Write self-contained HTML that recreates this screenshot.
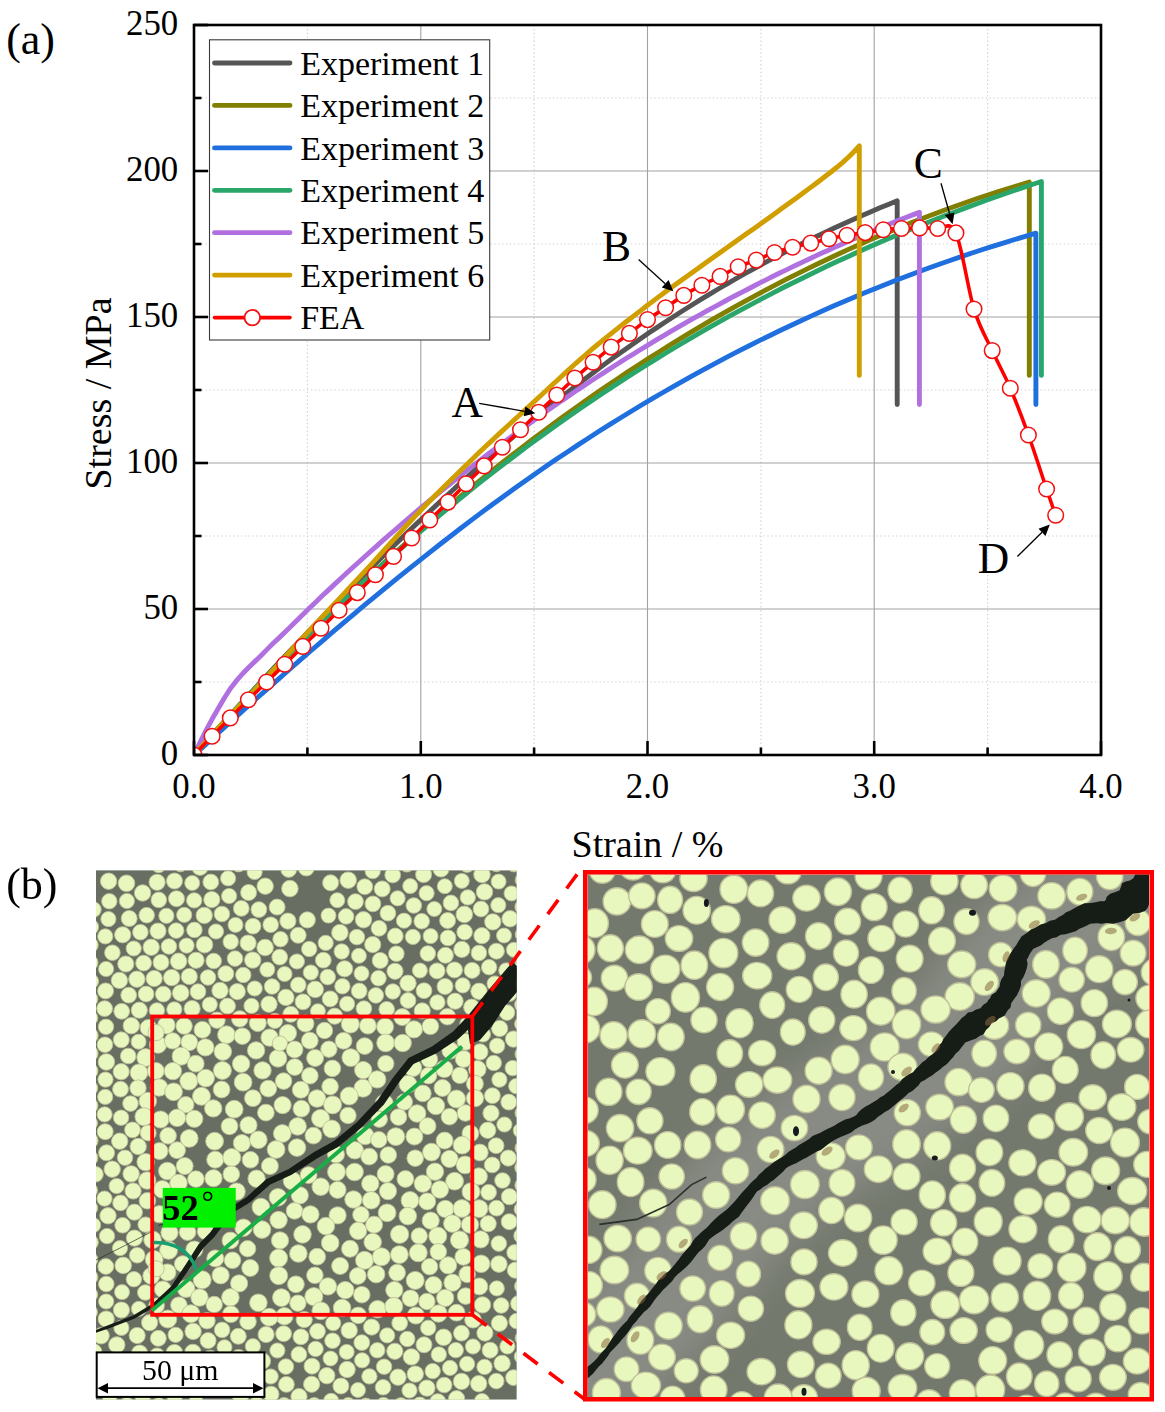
<!DOCTYPE html>
<html><head><meta charset="utf-8"><title>Stress-strain</title>
<style>
html,body{margin:0;padding:0;background:#fff;}
body{width:1165px;height:1412px;overflow:hidden;}
svg{display:block;}
text{font-family:"Liberation Serif",serif;fill:#000;}
.tk{font-size:34.8px;}
.ax{font-size:38px;}
.lg{font-size:34px;}
.an{font-size:43.5px;}
.lb{font-size:44px;}
</style></head><body>
<svg width="1165" height="1412" viewBox="0 0 1165 1412">
<rect width="1165" height="1412" fill="#fff"/>
<g id="chart">
<defs><clipPath id="pc"><rect x="194" y="25" width="907" height="730"/></clipPath></defs>
<line x1="307.4" y1="25" x2="307.4" y2="755" stroke="#d2d2d2" stroke-width="1.2" stroke-dasharray="1.4 2.5"/>
<line x1="534.1" y1="25" x2="534.1" y2="755" stroke="#d2d2d2" stroke-width="1.2" stroke-dasharray="1.4 2.5"/>
<line x1="760.9" y1="25" x2="760.9" y2="755" stroke="#d2d2d2" stroke-width="1.2" stroke-dasharray="1.4 2.5"/>
<line x1="987.6" y1="25" x2="987.6" y2="755" stroke="#d2d2d2" stroke-width="1.2" stroke-dasharray="1.4 2.5"/>
<line x1="194" y1="682.0" x2="1101" y2="682.0" stroke="#d2d2d2" stroke-width="1.2" stroke-dasharray="1.4 2.5"/>
<line x1="194" y1="536.0" x2="1101" y2="536.0" stroke="#d2d2d2" stroke-width="1.2" stroke-dasharray="1.4 2.5"/>
<line x1="194" y1="390.0" x2="1101" y2="390.0" stroke="#d2d2d2" stroke-width="1.2" stroke-dasharray="1.4 2.5"/>
<line x1="194" y1="244.0" x2="1101" y2="244.0" stroke="#d2d2d2" stroke-width="1.2" stroke-dasharray="1.4 2.5"/>
<line x1="194" y1="98.0" x2="1101" y2="98.0" stroke="#d2d2d2" stroke-width="1.2" stroke-dasharray="1.4 2.5"/>
<line x1="420.8" y1="25" x2="420.8" y2="755" stroke="#a2a2a2" stroke-width="1.1"/>
<line x1="647.5" y1="25" x2="647.5" y2="755" stroke="#a2a2a2" stroke-width="1.1"/>
<line x1="874.2" y1="25" x2="874.2" y2="755" stroke="#a2a2a2" stroke-width="1.1"/>
<line x1="194" y1="609.0" x2="1101" y2="609.0" stroke="#a2a2a2" stroke-width="1.1"/>
<line x1="194" y1="463.0" x2="1101" y2="463.0" stroke="#a2a2a2" stroke-width="1.1"/>
<line x1="194" y1="317.0" x2="1101" y2="317.0" stroke="#a2a2a2" stroke-width="1.1"/>
<line x1="194" y1="171.0" x2="1101" y2="171.0" stroke="#a2a2a2" stroke-width="1.1"/>
<g clip-path="url(#pc)">
<path d="M194.0,755.0 L202.9,745.1 L211.8,735.3 L220.7,725.5 L229.6,715.8 L238.5,706.1 L247.4,696.4 L256.3,686.8 L265.2,677.3 L274.1,667.7 L283.0,658.3 L291.9,648.9 L300.8,639.6 L309.7,630.3 L318.6,621.1 L327.5,611.9 L336.4,602.8 L345.3,593.7 L354.2,584.8 L363.1,575.9 L372.0,567.0 L380.9,558.2 L389.8,549.5 L398.7,540.9 L407.6,532.3 L416.5,523.9 L425.4,515.4 L434.3,507.1 L443.2,498.8 L452.1,490.7 L461.0,482.6 L469.9,474.6 L478.8,466.6 L487.7,458.8 L496.6,451.0 L505.5,443.3 L514.4,435.8 L523.3,428.3 L532.2,420.9 L541.1,413.6 L550.0,406.3 L558.9,399.2 L567.8,392.2 L576.7,385.3 L585.6,378.5 L594.5,371.7 L603.4,365.1 L612.3,358.6 L621.2,352.2 L630.1,345.9 L639.0,339.7 L647.9,333.6 L656.8,327.6 L665.7,321.7 L674.6,316.0 L683.5,310.3 L692.4,304.7 L701.3,299.2 L710.2,293.8 L719.1,288.5 L728.0,283.3 L736.9,278.2 L745.8,273.2 L754.7,268.3 L763.6,263.4 L772.5,258.7 L781.4,254.0 L790.3,249.4 L799.2,244.9 L808.1,240.5 L817.0,236.2 L825.9,232.0 L834.8,227.8 L843.7,223.7 L852.6,219.7 L861.5,215.8 L870.4,211.9 L879.4,208.1 L888.3,204.4 L897.2,200.8 L897.2,404.6" fill="none" stroke="#555555" stroke-width="4.9" stroke-linejoin="round" stroke-linecap="round"/>
<path d="M194.0,755.0 L204.6,743.3 L215.1,731.7 L225.7,720.2 L236.3,708.8 L246.9,697.6 L257.4,686.5 L268.0,675.5 L278.6,664.6 L289.2,653.9 L299.7,643.2 L310.3,632.7 L320.9,622.4 L331.5,612.1 L342.0,602.0 L352.6,591.9 L363.2,582.0 L373.8,572.2 L384.3,562.6 L394.9,553.0 L405.5,543.6 L416.1,534.3 L426.6,525.1 L437.2,516.0 L447.8,507.1 L458.4,498.2 L468.9,489.5 L479.5,480.9 L490.1,472.4 L500.6,464.0 L511.2,455.7 L521.8,447.6 L532.4,439.5 L542.9,431.6 L553.5,423.8 L564.1,416.1 L574.7,408.5 L585.2,401.0 L595.8,393.6 L606.4,386.3 L617.0,379.2 L627.5,372.1 L638.1,365.2 L648.7,358.4 L659.3,351.7 L669.8,345.1 L680.4,338.6 L691.0,332.2 L701.6,325.9 L712.1,319.7 L722.7,313.6 L733.3,307.7 L743.8,301.8 L754.4,296.1 L765.0,290.4 L775.6,284.9 L786.1,279.4 L796.7,274.1 L807.3,268.9 L817.9,263.7 L828.4,258.7 L839.0,253.8 L849.6,248.9 L860.2,244.2 L870.7,239.6 L881.3,235.1 L891.9,230.7 L902.5,226.3 L913.0,222.1 L923.6,218.0 L934.2,214.0 L944.8,210.0 L955.3,206.2 L965.9,202.5 L976.5,198.8 L987.1,195.3 L997.6,191.9 L1008.2,188.5 L1018.8,185.3 L1029.3,182.1 L1029.3,375.4" fill="none" stroke="#807f00" stroke-width="4.9" stroke-linejoin="round" stroke-linecap="round"/>
<path d="M194.0,755.1 L204.7,745.4 L215.3,735.7 L226.0,726.0 L236.6,716.4 L247.3,706.8 L257.9,697.3 L268.6,687.8 L279.3,678.4 L289.9,669.0 L300.6,659.7 L311.2,650.5 L321.9,641.3 L332.5,632.2 L343.2,623.1 L353.9,614.1 L364.5,605.2 L375.2,596.4 L385.8,587.6 L396.5,578.9 L407.1,570.3 L417.8,561.8 L428.5,553.3 L439.1,545.0 L449.8,536.7 L460.4,528.5 L471.1,520.4 L481.7,512.4 L492.4,504.5 L503.1,496.7 L513.7,489.1 L524.4,481.5 L535.0,474.0 L545.7,466.6 L556.3,459.3 L567.0,452.2 L577.7,445.1 L588.3,438.2 L599.0,431.3 L609.6,424.6 L620.3,418.0 L630.9,411.5 L641.6,405.0 L652.3,398.7 L662.9,392.5 L673.6,386.4 L684.2,380.3 L694.9,374.4 L705.5,368.6 L716.2,362.9 L726.9,357.2 L737.5,351.7 L748.2,346.3 L758.8,340.9 L769.5,335.7 L780.1,330.5 L790.8,325.5 L801.5,320.5 L812.1,315.6 L822.8,310.8 L833.4,306.1 L844.1,301.5 L854.7,297.0 L865.4,292.6 L876.1,288.3 L886.7,284.0 L897.4,279.8 L908.0,275.8 L918.7,271.8 L929.4,267.8 L940.0,264.0 L950.7,260.3 L961.3,256.6 L972.0,253.0 L982.6,249.5 L993.3,246.1 L1004.0,242.8 L1014.6,239.5 L1025.3,236.3 L1035.9,233.2 L1035.9,404.6" fill="none" stroke="#1f6fdf" stroke-width="4.9" stroke-linejoin="round" stroke-linecap="round"/>
<path d="M194.0,755.0 L204.7,743.0 L215.5,731.2 L226.2,719.5 L236.9,707.9 L247.6,696.5 L258.4,685.2 L269.1,674.1 L279.8,663.1 L290.5,652.2 L301.3,641.5 L312.0,630.9 L322.7,620.5 L333.4,610.2 L344.2,600.0 L354.9,590.0 L365.6,580.1 L376.3,570.3 L387.1,560.7 L397.8,551.2 L408.5,541.8 L419.2,532.6 L430.0,523.5 L440.7,514.5 L451.4,505.6 L462.2,496.9 L472.9,488.2 L483.6,479.7 L494.3,471.4 L505.1,463.1 L515.8,455.0 L526.5,446.9 L537.2,439.0 L548.0,431.3 L558.7,423.6 L569.4,416.0 L580.1,408.6 L590.9,401.3 L601.6,394.0 L612.3,386.9 L623.0,379.9 L633.8,373.0 L644.5,366.2 L655.2,359.6 L665.9,353.0 L676.7,346.5 L687.4,340.2 L698.1,333.9 L708.9,327.7 L719.6,321.7 L730.3,315.7 L741.0,309.8 L751.8,304.1 L762.5,298.4 L773.2,292.8 L783.9,287.3 L794.7,282.0 L805.4,276.7 L816.1,271.5 L826.8,266.3 L837.6,261.3 L848.3,256.4 L859.0,251.5 L869.7,246.8 L880.5,242.1 L891.2,237.5 L901.9,233.0 L912.7,228.6 L923.4,224.2 L934.1,220.0 L944.8,215.8 L955.6,211.7 L966.3,207.6 L977.0,203.7 L987.7,199.8 L998.5,196.0 L1009.2,192.3 L1019.9,188.6 L1030.6,185.0 L1041.4,181.5 L1041.4,375.4" fill="none" stroke="#2ba66b" stroke-width="4.9" stroke-linejoin="round" stroke-linecap="round"/>
<path d="M194.0,755.0 L200.1,742.4 L206.2,730.1 L212.3,718.8 L218.4,708.2 L224.5,697.7 L230.6,688.2 L236.7,680.4 L242.8,673.5 L248.9,667.2 L255.0,661.4 L261.1,655.5 L267.1,649.4 L273.2,643.3 L279.3,637.6 L285.4,631.7 L291.5,625.7 L297.6,619.7 L303.7,613.7 L309.8,607.8 L315.9,602.0 L322.0,596.1 L328.1,590.4 L334.2,584.6 L340.3,579.0 L346.4,573.3 L352.5,567.7 L358.6,562.2 L364.7,556.7 L370.8,551.2 L376.9,545.8 L383.0,540.4 L389.1,535.0 L395.2,529.8 L401.2,524.5 L407.3,519.3 L413.4,514.1 L419.5,509.0 L425.6,503.9 L431.7,498.9 L437.8,493.9 L443.9,488.9 L450.0,484.0 L456.1,479.1 L462.2,474.2 L468.3,469.4 L474.4,464.7 L480.5,460.0 L486.6,455.3 L492.7,450.6 L498.8,446.0 L504.9,441.5 L511.0,436.9 L517.1,432.4 L523.2,428.0 L529.3,423.6 L535.4,419.2 L541.4,414.9 L547.5,410.6 L553.6,406.3 L559.7,402.1 L565.8,397.9 L571.9,393.8 L578.0,389.6 L584.1,385.6 L590.2,381.5 L596.3,377.5 L602.4,373.6 L608.5,369.6 L614.6,365.7 L620.7,361.9 L626.8,358.0 L632.9,354.3 L639.0,350.5 L645.1,346.8 L651.2,343.1 L657.3,339.4 L663.4,335.8 L669.5,332.2 L675.6,328.7 L681.6,325.2 L687.7,321.7 L693.8,318.2 L699.9,314.8 L706.0,311.4 L712.1,308.1 L718.2,304.8 L724.3,301.5 L730.4,298.2 L736.5,295.0 L742.6,291.8 L748.7,288.7 L754.8,285.5 L760.9,282.4 L767.0,279.4 L773.1,276.3 L779.2,273.3 L785.3,270.4 L791.4,267.4 L797.5,264.5 L803.6,261.6 L809.7,258.8 L815.7,255.9 L821.8,253.1 L827.9,250.4 L834.0,247.6 L840.1,244.9 L846.2,242.2 L852.3,239.6 L858.4,237.0 L864.5,234.4 L870.6,231.8 L876.7,229.2 L882.8,226.7 L888.9,224.3 L895.0,221.8 L901.1,219.4 L907.2,217.0 L913.3,214.6 L919.4,212.2 L919.4,404.6" fill="none" stroke="#b070e0" stroke-width="4.9" stroke-linejoin="round" stroke-linecap="round"/>
<path d="M194.0,755.0 L199.6,748.7 L205.2,742.4 L210.8,736.3 L216.4,730.2 L222.0,724.1 L227.5,718.2 L233.1,712.4 L238.7,706.7 L244.3,700.9 L249.9,695.1 L255.5,689.1 L261.1,683.1 L266.7,677.1 L272.3,671.0 L277.9,664.9 L283.5,658.7 L289.0,652.6 L294.6,646.5 L300.2,640.4 L305.8,634.3 L311.4,628.3 L317.0,622.3 L322.6,616.4 L328.2,610.5 L333.8,604.5 L339.4,598.6 L344.9,592.7 L350.5,586.7 L356.1,580.7 L361.7,574.7 L367.3,568.7 L372.9,562.6 L378.5,556.4 L384.1,550.2 L389.7,544.0 L395.3,537.8 L400.9,531.6 L406.4,525.5 L412.0,519.5 L417.6,513.6 L423.2,507.8 L428.8,502.0 L434.4,496.3 L440.0,490.7 L445.6,485.2 L451.2,479.7 L456.8,474.2 L462.4,468.8 L467.9,463.4 L473.5,458.0 L479.1,452.6 L484.7,447.3 L490.3,442.1 L495.9,436.8 L501.5,431.6 L507.1,426.5 L512.7,421.3 L518.3,416.2 L523.8,411.1 L529.4,406.0 L535.0,400.9 L540.6,395.7 L546.2,390.5 L551.8,385.3 L557.4,380.2 L563.0,375.0 L568.6,369.9 L574.2,364.8 L579.8,359.9 L585.3,355.0 L590.9,350.2 L596.5,345.5 L602.1,340.9 L607.7,336.3 L613.3,331.8 L618.9,327.4 L624.5,323.0 L630.1,318.7 L635.7,314.4 L641.3,310.1 L646.8,305.8 L652.4,301.6 L658.0,297.4 L663.6,293.2 L669.2,289.1 L674.8,285.1 L680.4,281.0 L686.0,277.0 L691.6,272.9 L697.2,268.9 L702.7,264.9 L708.3,260.9 L713.9,256.9 L719.5,252.9 L725.1,249.0 L730.7,245.1 L736.3,241.1 L741.9,237.1 L747.5,233.1 L753.1,229.2 L758.7,225.2 L764.2,221.2 L769.8,217.2 L775.4,213.2 L781.0,209.1 L786.6,205.1 L792.2,201.0 L797.8,196.9 L803.4,192.8 L809.0,188.6 L814.6,184.5 L820.2,180.2 L825.7,176.0 L831.3,171.7 L836.9,167.3 L842.5,162.6 L848.1,157.5 L853.7,151.9 L859.3,145.9 L859.3,375.4" fill="none" stroke="#d19e00" stroke-width="4.9" stroke-linejoin="round" stroke-linecap="round"/>
<path d="M194.0,755.0 C197.0,751.9 206.1,742.5 212.1,736.3 C218.2,730.1 224.2,724.0 230.3,717.9 C236.3,711.8 242.4,705.8 248.4,699.8 C254.5,693.8 260.5,687.9 266.6,682.0 C272.6,676.1 278.7,670.1 284.7,664.2 C290.7,658.3 296.8,652.4 302.8,646.4 C308.9,640.4 314.9,634.3 321.0,628.3 C327.0,622.2 333.1,616.1 339.1,610.2 C345.2,604.2 351.2,598.5 357.3,592.6 C363.3,586.8 369.4,580.9 375.4,574.8 C381.4,568.8 387.5,562.6 393.5,556.4 C399.6,550.3 405.6,544.1 411.7,538.0 C417.7,532.0 423.8,525.9 429.8,519.9 C435.9,514.0 441.9,508.2 448.0,502.1 C454.0,496.1 460.1,489.8 466.1,483.7 C472.1,477.7 478.2,472.0 484.2,465.9 C490.3,459.8 496.3,453.3 502.4,447.2 C508.4,441.2 514.5,435.6 520.5,429.7 C526.6,423.9 532.6,418.0 538.7,412.2 C544.7,406.4 550.8,400.7 556.8,395.0 C562.8,389.3 568.9,383.5 574.9,378.0 C581.0,372.6 587.0,367.4 593.1,362.3 C599.1,357.1 605.2,351.9 611.2,347.1 C617.3,342.3 623.3,337.9 629.4,333.4 C635.4,328.8 641.5,323.9 647.5,319.6 C653.5,315.3 659.6,311.7 665.6,307.7 C671.7,303.6 677.7,299.1 683.8,295.4 C689.8,291.6 695.9,288.3 701.9,285.2 C708.0,282.0 714.0,279.5 720.1,276.4 C726.1,273.3 732.2,269.5 738.2,266.8 C744.2,264.1 750.3,262.4 756.3,260.1 C762.4,257.7 768.4,254.6 774.5,252.5 C780.5,250.3 786.6,248.8 792.6,247.2 C798.7,245.7 804.7,244.5 810.8,243.1 C816.8,241.7 822.9,240.1 828.9,238.7 C834.9,237.4 841.0,236.3 847.0,235.2 C853.1,234.2 859.1,233.5 865.2,232.6 C871.2,231.7 877.3,230.4 883.3,229.7 C889.4,229.0 895.4,228.8 901.5,228.5 C907.5,228.2 913.6,227.9 919.6,227.9 C925.6,227.9 931.7,227.7 937.7,228.5 C943.8,229.4 949.8,219.5 955.9,232.9 C961.9,246.3 968.0,289.5 974.0,309.1 C980.1,328.7 986.1,337.4 992.2,350.6 C998.2,363.8 1004.3,374.2 1010.3,388.2 C1016.3,402.3 1022.4,418.2 1028.4,435.0 C1034.5,451.8 1042.0,475.6 1046.6,489.0 C1051.1,502.4 1054.1,510.9 1055.7,515.3" fill="none" stroke="#ff0000" stroke-width="3.6" stroke-linejoin="round"/>
<circle cx="194.0" cy="755.0" r="7.8" fill="#fff" stroke="#f01010" stroke-width="1.5"/>
<circle cx="212.1" cy="736.3" r="7.8" fill="#fff" stroke="#f01010" stroke-width="1.5"/>
<circle cx="230.3" cy="717.9" r="7.8" fill="#fff" stroke="#f01010" stroke-width="1.5"/>
<circle cx="248.4" cy="699.8" r="7.8" fill="#fff" stroke="#f01010" stroke-width="1.5"/>
<circle cx="266.6" cy="682.0" r="7.8" fill="#fff" stroke="#f01010" stroke-width="1.5"/>
<circle cx="284.7" cy="664.2" r="7.8" fill="#fff" stroke="#f01010" stroke-width="1.5"/>
<circle cx="302.8" cy="646.4" r="7.8" fill="#fff" stroke="#f01010" stroke-width="1.5"/>
<circle cx="321.0" cy="628.3" r="7.8" fill="#fff" stroke="#f01010" stroke-width="1.5"/>
<circle cx="339.1" cy="610.2" r="7.8" fill="#fff" stroke="#f01010" stroke-width="1.5"/>
<circle cx="357.3" cy="592.6" r="7.8" fill="#fff" stroke="#f01010" stroke-width="1.5"/>
<circle cx="375.4" cy="574.8" r="7.8" fill="#fff" stroke="#f01010" stroke-width="1.5"/>
<circle cx="393.5" cy="556.4" r="7.8" fill="#fff" stroke="#f01010" stroke-width="1.5"/>
<circle cx="411.7" cy="538.0" r="7.8" fill="#fff" stroke="#f01010" stroke-width="1.5"/>
<circle cx="429.8" cy="519.9" r="7.8" fill="#fff" stroke="#f01010" stroke-width="1.5"/>
<circle cx="448.0" cy="502.1" r="7.8" fill="#fff" stroke="#f01010" stroke-width="1.5"/>
<circle cx="466.1" cy="483.7" r="7.8" fill="#fff" stroke="#f01010" stroke-width="1.5"/>
<circle cx="484.2" cy="465.9" r="7.8" fill="#fff" stroke="#f01010" stroke-width="1.5"/>
<circle cx="502.4" cy="447.2" r="7.8" fill="#fff" stroke="#f01010" stroke-width="1.5"/>
<circle cx="520.5" cy="429.7" r="7.8" fill="#fff" stroke="#f01010" stroke-width="1.5"/>
<circle cx="538.7" cy="412.2" r="7.8" fill="#fff" stroke="#f01010" stroke-width="1.5"/>
<circle cx="556.8" cy="395.0" r="7.8" fill="#fff" stroke="#f01010" stroke-width="1.5"/>
<circle cx="574.9" cy="378.0" r="7.8" fill="#fff" stroke="#f01010" stroke-width="1.5"/>
<circle cx="593.1" cy="362.3" r="7.8" fill="#fff" stroke="#f01010" stroke-width="1.5"/>
<circle cx="611.2" cy="347.1" r="7.8" fill="#fff" stroke="#f01010" stroke-width="1.5"/>
<circle cx="629.4" cy="333.4" r="7.8" fill="#fff" stroke="#f01010" stroke-width="1.5"/>
<circle cx="647.5" cy="319.6" r="7.8" fill="#fff" stroke="#f01010" stroke-width="1.5"/>
<circle cx="665.6" cy="307.7" r="7.8" fill="#fff" stroke="#f01010" stroke-width="1.5"/>
<circle cx="683.8" cy="295.4" r="7.8" fill="#fff" stroke="#f01010" stroke-width="1.5"/>
<circle cx="701.9" cy="285.2" r="7.8" fill="#fff" stroke="#f01010" stroke-width="1.5"/>
<circle cx="720.1" cy="276.4" r="7.8" fill="#fff" stroke="#f01010" stroke-width="1.5"/>
<circle cx="738.2" cy="266.8" r="7.8" fill="#fff" stroke="#f01010" stroke-width="1.5"/>
<circle cx="756.3" cy="260.1" r="7.8" fill="#fff" stroke="#f01010" stroke-width="1.5"/>
<circle cx="774.5" cy="252.5" r="7.8" fill="#fff" stroke="#f01010" stroke-width="1.5"/>
<circle cx="792.6" cy="247.2" r="7.8" fill="#fff" stroke="#f01010" stroke-width="1.5"/>
<circle cx="810.8" cy="243.1" r="7.8" fill="#fff" stroke="#f01010" stroke-width="1.5"/>
<circle cx="828.9" cy="238.7" r="7.8" fill="#fff" stroke="#f01010" stroke-width="1.5"/>
<circle cx="847.0" cy="235.2" r="7.8" fill="#fff" stroke="#f01010" stroke-width="1.5"/>
<circle cx="865.2" cy="232.6" r="7.8" fill="#fff" stroke="#f01010" stroke-width="1.5"/>
<circle cx="883.3" cy="229.7" r="7.8" fill="#fff" stroke="#f01010" stroke-width="1.5"/>
<circle cx="901.5" cy="228.5" r="7.8" fill="#fff" stroke="#f01010" stroke-width="1.5"/>
<circle cx="919.6" cy="227.9" r="7.8" fill="#fff" stroke="#f01010" stroke-width="1.5"/>
<circle cx="937.7" cy="228.5" r="7.8" fill="#fff" stroke="#f01010" stroke-width="1.5"/>
<circle cx="955.9" cy="232.9" r="7.8" fill="#fff" stroke="#f01010" stroke-width="1.5"/>
<circle cx="974.0" cy="309.1" r="7.8" fill="#fff" stroke="#f01010" stroke-width="1.5"/>
<circle cx="992.2" cy="350.6" r="7.8" fill="#fff" stroke="#f01010" stroke-width="1.5"/>
<circle cx="1010.3" cy="388.2" r="7.8" fill="#fff" stroke="#f01010" stroke-width="1.5"/>
<circle cx="1028.4" cy="435.0" r="7.8" fill="#fff" stroke="#f01010" stroke-width="1.5"/>
<circle cx="1046.6" cy="489.0" r="7.8" fill="#fff" stroke="#f01010" stroke-width="1.5"/>
<circle cx="1055.7" cy="515.3" r="7.8" fill="#fff" stroke="#f01010" stroke-width="1.5"/>
</g>
<rect x="194" y="25" width="907" height="730" fill="none" stroke="#000" stroke-width="2.6"/>
<line x1="194" y1="755.0" x2="208" y2="755.0" stroke="#000" stroke-width="2.6"/>
<line x1="194" y1="682.0" x2="201.5" y2="682.0" stroke="#000" stroke-width="2.6"/>
<line x1="194" y1="609.0" x2="208" y2="609.0" stroke="#000" stroke-width="2.6"/>
<line x1="194" y1="536.0" x2="201.5" y2="536.0" stroke="#000" stroke-width="2.6"/>
<line x1="194" y1="463.0" x2="208" y2="463.0" stroke="#000" stroke-width="2.6"/>
<line x1="194" y1="390.0" x2="201.5" y2="390.0" stroke="#000" stroke-width="2.6"/>
<line x1="194" y1="317.0" x2="208" y2="317.0" stroke="#000" stroke-width="2.6"/>
<line x1="194" y1="244.0" x2="201.5" y2="244.0" stroke="#000" stroke-width="2.6"/>
<line x1="194" y1="171.0" x2="208" y2="171.0" stroke="#000" stroke-width="2.6"/>
<line x1="194" y1="98.0" x2="201.5" y2="98.0" stroke="#000" stroke-width="2.6"/>
<line x1="194" y1="25.0" x2="208" y2="25.0" stroke="#000" stroke-width="2.6"/>
<line x1="194.0" y1="755" x2="194.0" y2="741" stroke="#000" stroke-width="2.6"/>
<line x1="307.4" y1="755" x2="307.4" y2="747.5" stroke="#000" stroke-width="2.6"/>
<line x1="420.8" y1="755" x2="420.8" y2="741" stroke="#000" stroke-width="2.6"/>
<line x1="534.1" y1="755" x2="534.1" y2="747.5" stroke="#000" stroke-width="2.6"/>
<line x1="647.5" y1="755" x2="647.5" y2="741" stroke="#000" stroke-width="2.6"/>
<line x1="760.9" y1="755" x2="760.9" y2="747.5" stroke="#000" stroke-width="2.6"/>
<line x1="874.2" y1="755" x2="874.2" y2="741" stroke="#000" stroke-width="2.6"/>
<line x1="987.6" y1="755" x2="987.6" y2="747.5" stroke="#000" stroke-width="2.6"/>
<line x1="1101.0" y1="755" x2="1101.0" y2="741" stroke="#000" stroke-width="2.6"/>
<text x="178.2" y="765.4" text-anchor="end" class="tk">0</text>
<text x="178.2" y="619.4" text-anchor="end" class="tk">50</text>
<text x="178.2" y="473.4" text-anchor="end" class="tk">100</text>
<text x="178.2" y="327.4" text-anchor="end" class="tk">150</text>
<text x="178.2" y="181.4" text-anchor="end" class="tk">200</text>
<text x="178.2" y="35.4" text-anchor="end" class="tk">250</text>
<text x="194.0" y="797.9" text-anchor="middle" class="tk">0.0</text>
<text x="420.8" y="797.9" text-anchor="middle" class="tk">1.0</text>
<text x="647.5" y="797.9" text-anchor="middle" class="tk">2.0</text>
<text x="874.2" y="797.9" text-anchor="middle" class="tk">3.0</text>
<text x="1101.0" y="797.9" text-anchor="middle" class="tk">4.0</text>
<text transform="translate(111,393.5) rotate(-90)" text-anchor="middle" class="ax">Stress / MPa</text>
<text x="647.5" y="857" text-anchor="middle" class="ax">Strain / %</text>
<rect x="209.5" y="39.8" width="280.2" height="300.2" fill="#fff" stroke="#3a3a3a" stroke-width="1.1"/>
<line x1="214.5" y1="63.0" x2="290" y2="63.0" stroke="#555555" stroke-width="4.8" stroke-linecap="round"/>
<text x="300.2" y="74.6" class="lg">Experiment 1</text>
<line x1="214.5" y1="105.4" x2="290" y2="105.4" stroke="#807f00" stroke-width="4.8" stroke-linecap="round"/>
<text x="300.2" y="117.0" class="lg">Experiment 2</text>
<line x1="214.5" y1="147.9" x2="290" y2="147.9" stroke="#1f6fdf" stroke-width="4.8" stroke-linecap="round"/>
<text x="300.2" y="159.5" class="lg">Experiment 3</text>
<line x1="214.5" y1="190.3" x2="290" y2="190.3" stroke="#2ba66b" stroke-width="4.8" stroke-linecap="round"/>
<text x="300.2" y="201.9" class="lg">Experiment 4</text>
<line x1="214.5" y1="232.7" x2="290" y2="232.7" stroke="#b070e0" stroke-width="4.8" stroke-linecap="round"/>
<text x="300.2" y="244.3" class="lg">Experiment 5</text>
<line x1="214.5" y1="275.1" x2="290" y2="275.1" stroke="#d19e00" stroke-width="4.8" stroke-linecap="round"/>
<text x="300.2" y="286.8" class="lg">Experiment 6</text>
<line x1="214.5" y1="317.6" x2="290" y2="317.6" stroke="#ff0000" stroke-width="3.6" stroke-linecap="round"/>
<circle cx="252.3" cy="317.6" r="7.8" fill="#fff" stroke="#f01010" stroke-width="1.8"/>
<text x="300.2" y="329.2" class="lg">FEA</text>
<text x="451.5" y="416.7" class="an">A</text>
<line x1="479.2" y1="403.3" x2="524.6" y2="411.3" stroke="#000" stroke-width="1.3"/><polygon points="535.4,413.2 523.7,416.2 525.4,406.4" fill="#000"/>
<text x="602" y="261.2" class="an">B</text>
<line x1="638.6" y1="259.5" x2="665.2" y2="283.8" stroke="#000" stroke-width="1.3"/><polygon points="673.3,291.2 661.8,287.5 668.6,280.1" fill="#000"/>
<text x="913.8" y="178.3" class="an">C</text>
<line x1="941.0" y1="183.3" x2="949.6" y2="213.7" stroke="#000" stroke-width="1.3"/><polygon points="952.6,224.3 944.8,215.1 954.4,212.4" fill="#000"/>
<text x="977.8" y="572.8" class="an">D</text>
<line x1="1017.4" y1="556.5" x2="1042.0" y2="532.3" stroke="#000" stroke-width="1.3"/><polygon points="1049.8,524.6 1045.5,535.9 1038.5,528.8" fill="#000"/>
<text x="6.2" y="54" class="lb">(a)</text>
</g>
<defs>
<clipPath id="rc"><rect x="587.5" y="874.5" width="561.5" height="522.5"/></clipPath>
<clipPath id="lc"><rect x="96.0" y="870.2" width="420.79999999999995" height="529.5"/></clipPath>
<filter id="bl8" x="-20%" y="-20%" width="140%" height="140%"><feGaussianBlur stdDeviation="18"/></filter>
<filter id="bl4" x="-20%" y="-20%" width="140%" height="140%"><feGaussianBlur stdDeviation="10"/></filter>
<filter id="bl1"><feGaussianBlur stdDeviation="0.6"/></filter>
<filter id="bl05"><feGaussianBlur stdDeviation="0.4"/></filter>
</defs>
<g clip-path="url(#rc)">
<rect x="587.5" y="874.5" width="561.5" height="522.5" fill="#74796e"/>
<polyline points="1150,870 1100,900 1020,960 960,1040 880,1100 800,1150 740,1200 680,1280 620,1340 580,1380" fill="none" stroke="#8d9089" stroke-width="130" stroke-linecap="round" stroke-linejoin="round" filter="url(#bl8)" opacity="0.8"/>
<g fill="#e7f7be" stroke="#c0c09a" stroke-width="1.4" filter="url(#bl1)">
<ellipse cx="602.3" cy="870.4" rx="13.1" ry="12.9"/>
<ellipse cx="633.0" cy="867.2" rx="13.7" ry="12.9"/>
<ellipse cx="662.8" cy="870.4" rx="13.2" ry="12.4"/>
<ellipse cx="693.5" cy="878.5" rx="13.7" ry="13.0"/>
<ellipse cx="733.8" cy="889.3" rx="13.8" ry="14.1"/>
<ellipse cx="760.5" cy="893.4" rx="13.1" ry="13.4"/>
<ellipse cx="616.9" cy="901.4" rx="13.8" ry="13.7"/>
<ellipse cx="641.9" cy="895.8" rx="13.2" ry="12.9"/>
<ellipse cx="670.1" cy="899.8" rx="12.5" ry="13.6"/>
<ellipse cx="696.7" cy="910.3" rx="13.7" ry="13.9"/>
<ellipse cx="725.8" cy="919.2" rx="14.3" ry="13.6"/>
<ellipse cx="594.7" cy="923.2" rx="13.7" ry="14.4"/>
<ellipse cx="654.8" cy="924.0" rx="13.4" ry="13.4"/>
<ellipse cx="679.0" cy="938.5" rx="13.7" ry="12.9"/>
<ellipse cx="755.6" cy="942.6" rx="13.3" ry="13.6"/>
<ellipse cx="610.4" cy="948.2" rx="13.0" ry="13.4"/>
<ellipse cx="639.4" cy="949.8" rx="14.1" ry="13.8"/>
<ellipse cx="723.4" cy="953.1" rx="14.5" ry="14.7"/>
<ellipse cx="581.8" cy="949.8" rx="13.2" ry="14.1"/>
<ellipse cx="665.3" cy="969.2" rx="14.6" ry="14.1"/>
<ellipse cx="694.3" cy="965.2" rx="13.3" ry="14.2"/>
<ellipse cx="614.4" cy="978.1" rx="13.2" ry="12.9"/>
<ellipse cx="757.2" cy="975.7" rx="14.6" ry="13.3"/>
<ellipse cx="638.6" cy="987.0" rx="13.7" ry="13.3"/>
<ellipse cx="720.1" cy="987.0" rx="13.5" ry="13.6"/>
<ellipse cx="578.6" cy="977.3" rx="12.9" ry="12.1"/>
<ellipse cx="593.9" cy="1001.5" rx="13.5" ry="14.2"/>
<ellipse cx="685.4" cy="997.4" rx="14.1" ry="14.8"/>
<ellipse cx="772.2" cy="1005.1" rx="12.5" ry="13.3"/>
<ellipse cx="658.0" cy="1011.2" rx="12.3" ry="12.6"/>
<ellipse cx="704.0" cy="1020.0" rx="13.1" ry="12.9"/>
<ellipse cx="739.5" cy="1023.3" rx="13.7" ry="14.6"/>
<ellipse cx="585.9" cy="1028.9" rx="13.8" ry="13.9"/>
<ellipse cx="613.6" cy="1035.4" rx="13.6" ry="13.6"/>
<ellipse cx="641.9" cy="1033.8" rx="13.7" ry="14.1"/>
<ellipse cx="670.9" cy="1037.0" rx="13.3" ry="13.7"/>
<ellipse cx="729.8" cy="1053.5" rx="12.8" ry="13.7"/>
<ellipse cx="762.1" cy="1053.1" rx="13.5" ry="12.7"/>
<ellipse cx="787.9" cy="871.3" rx="13.4" ry="12.6"/>
<ellipse cx="806.5" cy="898.2" rx="13.7" ry="12.9"/>
<ellipse cx="837.9" cy="891.8" rx="13.5" ry="13.8"/>
<ellipse cx="868.6" cy="876.1" rx="13.5" ry="13.5"/>
<ellipse cx="900.1" cy="890.1" rx="12.1" ry="13.0"/>
<ellipse cx="944.4" cy="880.9" rx="13.7" ry="14.0"/>
<ellipse cx="782.3" cy="920.0" rx="13.3" ry="13.3"/>
<ellipse cx="847.6" cy="921.6" rx="13.0" ry="13.3"/>
<ellipse cx="874.2" cy="907.1" rx="12.9" ry="13.5"/>
<ellipse cx="905.7" cy="924.0" rx="12.8" ry="13.1"/>
<ellipse cx="931.5" cy="910.3" rx="12.7" ry="13.6"/>
<ellipse cx="966.5" cy="921.6" rx="12.6" ry="12.9"/>
<ellipse cx="818.6" cy="936.1" rx="13.1" ry="13.4"/>
<ellipse cx="881.5" cy="938.5" rx="13.6" ry="13.1"/>
<ellipse cx="942.0" cy="941.0" rx="13.4" ry="13.7"/>
<ellipse cx="791.1" cy="956.3" rx="14.1" ry="13.5"/>
<ellipse cx="846.0" cy="953.1" rx="12.5" ry="13.1"/>
<ellipse cx="909.7" cy="958.7" rx="13.4" ry="13.4"/>
<ellipse cx="871.0" cy="970.0" rx="12.6" ry="13.4"/>
<ellipse cx="961.7" cy="964.4" rx="14.0" ry="13.4"/>
<ellipse cx="825.8" cy="977.3" rx="12.6" ry="13.3"/>
<ellipse cx="799.2" cy="989.4" rx="12.9" ry="13.0"/>
<ellipse cx="854.1" cy="994.2" rx="13.2" ry="13.9"/>
<ellipse cx="904.1" cy="991.0" rx="12.2" ry="13.5"/>
<ellipse cx="959.7" cy="996.6" rx="14.6" ry="13.8"/>
<ellipse cx="935.6" cy="1009.5" rx="14.6" ry="13.6"/>
<ellipse cx="880.7" cy="1011.2" rx="14.2" ry="14.0"/>
<ellipse cx="821.8" cy="1020.0" rx="13.1" ry="13.2"/>
<ellipse cx="792.8" cy="1032.1" rx="12.4" ry="13.1"/>
<ellipse cx="853.3" cy="1028.1" rx="13.5" ry="12.5"/>
<ellipse cx="906.5" cy="1024.1" rx="14.2" ry="14.6"/>
<ellipse cx="884.7" cy="1047.0" rx="14.5" ry="14.1"/>
<ellipse cx="931.5" cy="1044.2" rx="13.1" ry="12.3"/>
<ellipse cx="974.1" cy="885.3" rx="13.3" ry="13.2"/>
<ellipse cx="1003.1" cy="888.5" rx="13.9" ry="13.4"/>
<ellipse cx="1033.0" cy="872.9" rx="12.8" ry="13.7"/>
<ellipse cx="1051.6" cy="895.8" rx="13.8" ry="13.2"/>
<ellipse cx="1079.8" cy="891.8" rx="13.0" ry="13.4"/>
<ellipse cx="1109.7" cy="876.1" rx="13.3" ry="13.5"/>
<ellipse cx="1002.3" cy="917.6" rx="14.3" ry="13.1"/>
<ellipse cx="1031.4" cy="919.2" rx="14.1" ry="12.9"/>
<ellipse cx="1137.9" cy="922.4" rx="12.8" ry="13.1"/>
<ellipse cx="1111.3" cy="936.9" rx="13.3" ry="13.7"/>
<ellipse cx="1000.7" cy="954.7" rx="12.1" ry="12.2"/>
<ellipse cx="1075.0" cy="950.6" rx="12.3" ry="13.5"/>
<ellipse cx="1045.9" cy="964.4" rx="13.3" ry="13.9"/>
<ellipse cx="1133.1" cy="953.1" rx="12.9" ry="12.9"/>
<ellipse cx="1099.2" cy="969.2" rx="13.7" ry="13.4"/>
<ellipse cx="1071.7" cy="979.7" rx="12.7" ry="12.4"/>
<ellipse cx="984.6" cy="982.1" rx="13.8" ry="13.3"/>
<ellipse cx="1125.0" cy="982.1" rx="12.4" ry="12.6"/>
<ellipse cx="1155.2" cy="972.4" rx="13.9" ry="13.4"/>
<ellipse cx="1036.2" cy="993.4" rx="14.0" ry="13.7"/>
<ellipse cx="1094.3" cy="1003.1" rx="13.2" ry="13.5"/>
<ellipse cx="1149.5" cy="998.3" rx="13.6" ry="13.2"/>
<ellipse cx="1060.4" cy="1011.2" rx="13.1" ry="13.3"/>
<ellipse cx="1028.2" cy="1024.9" rx="12.7" ry="12.7"/>
<ellipse cx="1116.9" cy="1024.1" rx="14.5" ry="13.8"/>
<ellipse cx="994.3" cy="1025.7" rx="14.4" ry="13.6"/>
<ellipse cx="1148.4" cy="1024.1" rx="12.8" ry="13.8"/>
<ellipse cx="1081.4" cy="1034.6" rx="14.2" ry="14.0"/>
<ellipse cx="1048.7" cy="1046.6" rx="14.0" ry="13.7"/>
<ellipse cx="1016.9" cy="1051.5" rx="13.0" ry="12.2"/>
<ellipse cx="1130.6" cy="1049.8" rx="13.3" ry="12.3"/>
<ellipse cx="984.2" cy="1053.5" rx="12.3" ry="13.4"/>
<ellipse cx="1103.2" cy="1055.1" rx="12.3" ry="13.4"/>
<ellipse cx="624.9" cy="1065.1" rx="13.4" ry="13.1"/>
<ellipse cx="660.4" cy="1071.6" rx="14.5" ry="14.0"/>
<ellipse cx="703.2" cy="1078.9" rx="13.2" ry="14.2"/>
<ellipse cx="749.2" cy="1084.5" rx="13.7" ry="12.9"/>
<ellipse cx="777.4" cy="1080.1" rx="14.4" ry="13.1"/>
<ellipse cx="608.8" cy="1091.8" rx="13.2" ry="13.6"/>
<ellipse cx="638.6" cy="1091.8" rx="12.6" ry="12.7"/>
<ellipse cx="584.3" cy="1110.3" rx="13.9" ry="13.4"/>
<ellipse cx="649.9" cy="1120.8" rx="13.1" ry="13.0"/>
<ellipse cx="702.4" cy="1111.9" rx="12.7" ry="13.3"/>
<ellipse cx="730.6" cy="1109.5" rx="13.9" ry="14.4"/>
<ellipse cx="762.1" cy="1115.2" rx="13.2" ry="13.3"/>
<ellipse cx="620.1" cy="1128.1" rx="13.7" ry="13.6"/>
<ellipse cx="585.1" cy="1143.4" rx="14.2" ry="13.1"/>
<ellipse cx="667.7" cy="1145.0" rx="13.2" ry="13.4"/>
<ellipse cx="697.5" cy="1145.0" rx="13.3" ry="13.7"/>
<ellipse cx="728.2" cy="1139.4" rx="12.6" ry="12.5"/>
<ellipse cx="770.6" cy="1149.5" rx="13.3" ry="13.1"/>
<ellipse cx="637.8" cy="1150.7" rx="14.3" ry="13.4"/>
<ellipse cx="609.6" cy="1160.3" rx="13.6" ry="14.2"/>
<ellipse cx="735.5" cy="1170.8" rx="13.2" ry="13.1"/>
<ellipse cx="671.7" cy="1176.5" rx="12.7" ry="12.6"/>
<ellipse cx="583.4" cy="1179.7" rx="12.7" ry="12.7"/>
<ellipse cx="630.6" cy="1182.1" rx="13.3" ry="14.5"/>
<ellipse cx="716.1" cy="1195.0" rx="13.5" ry="13.3"/>
<ellipse cx="775.0" cy="1200.7" rx="14.3" ry="13.9"/>
<ellipse cx="602.3" cy="1204.7" rx="13.7" ry="13.9"/>
<ellipse cx="653.2" cy="1203.1" rx="13.6" ry="13.9"/>
<ellipse cx="689.5" cy="1212.0" rx="13.0" ry="13.0"/>
<ellipse cx="845.2" cy="1059.5" rx="14.0" ry="14.3"/>
<ellipse cx="818.6" cy="1070.8" rx="13.5" ry="13.5"/>
<ellipse cx="871.0" cy="1077.2" rx="12.6" ry="13.3"/>
<ellipse cx="902.5" cy="1066.8" rx="14.5" ry="13.6"/>
<ellipse cx="806.5" cy="1099.0" rx="13.6" ry="13.8"/>
<ellipse cx="842.0" cy="1097.4" rx="13.1" ry="13.2"/>
<ellipse cx="958.5" cy="1082.1" rx="13.6" ry="13.7"/>
<ellipse cx="939.6" cy="1107.1" rx="13.8" ry="12.8"/>
<ellipse cx="907.3" cy="1112.7" rx="13.1" ry="13.1"/>
<ellipse cx="963.3" cy="1119.6" rx="13.1" ry="13.6"/>
<ellipse cx="794.4" cy="1128.1" rx="13.3" ry="12.7"/>
<ellipse cx="858.9" cy="1147.4" rx="13.3" ry="12.5"/>
<ellipse cx="830.7" cy="1156.3" rx="14.5" ry="13.4"/>
<ellipse cx="906.5" cy="1144.2" rx="13.8" ry="14.4"/>
<ellipse cx="937.2" cy="1145.8" rx="13.5" ry="14.0"/>
<ellipse cx="878.3" cy="1169.2" rx="14.0" ry="13.3"/>
<ellipse cx="804.9" cy="1184.5" rx="14.4" ry="14.0"/>
<ellipse cx="842.0" cy="1182.9" rx="12.9" ry="13.4"/>
<ellipse cx="906.5" cy="1176.5" rx="13.5" ry="13.4"/>
<ellipse cx="962.5" cy="1168.0" rx="13.0" ry="13.7"/>
<ellipse cx="932.3" cy="1195.0" rx="13.1" ry="14.1"/>
<ellipse cx="962.5" cy="1197.9" rx="13.1" ry="14.2"/>
<ellipse cx="831.5" cy="1210.4" rx="12.7" ry="13.2"/>
<ellipse cx="858.1" cy="1218.0" rx="13.6" ry="13.7"/>
<ellipse cx="904.1" cy="1222.0" rx="13.1" ry="12.9"/>
<ellipse cx="943.6" cy="1222.8" rx="13.1" ry="13.2"/>
<ellipse cx="803.6" cy="1225.3" rx="13.8" ry="13.3"/>
<ellipse cx="1065.3" cy="1070.0" rx="12.9" ry="13.6"/>
<ellipse cx="981.4" cy="1090.1" rx="12.8" ry="12.4"/>
<ellipse cx="1010.4" cy="1086.1" rx="13.6" ry="13.5"/>
<ellipse cx="1041.9" cy="1087.7" rx="13.3" ry="13.6"/>
<ellipse cx="1092.7" cy="1097.4" rx="13.7" ry="12.7"/>
<ellipse cx="1137.1" cy="1086.9" rx="12.5" ry="12.5"/>
<ellipse cx="1121.8" cy="1107.1" rx="14.1" ry="13.3"/>
<ellipse cx="995.9" cy="1118.4" rx="12.8" ry="13.3"/>
<ellipse cx="1069.3" cy="1116.8" rx="14.2" ry="14.0"/>
<ellipse cx="1041.1" cy="1126.5" rx="12.8" ry="12.5"/>
<ellipse cx="1099.2" cy="1130.5" rx="13.5" ry="13.0"/>
<ellipse cx="1151.1" cy="1121.6" rx="13.4" ry="12.4"/>
<ellipse cx="1125.0" cy="1142.6" rx="14.4" ry="14.5"/>
<ellipse cx="989.4" cy="1152.3" rx="13.3" ry="13.4"/>
<ellipse cx="1073.3" cy="1152.3" rx="14.3" ry="13.8"/>
<ellipse cx="1022.5" cy="1162.8" rx="13.6" ry="13.1"/>
<ellipse cx="1051.6" cy="1172.4" rx="13.9" ry="12.8"/>
<ellipse cx="1105.6" cy="1170.8" rx="14.0" ry="13.8"/>
<ellipse cx="1147.1" cy="1164.4" rx="13.4" ry="13.0"/>
<ellipse cx="991.9" cy="1182.9" rx="12.8" ry="13.4"/>
<ellipse cx="1079.8" cy="1184.5" rx="13.5" ry="13.7"/>
<ellipse cx="1132.2" cy="1191.0" rx="14.6" ry="13.5"/>
<ellipse cx="1028.2" cy="1201.5" rx="14.0" ry="13.2"/>
<ellipse cx="1057.2" cy="1204.7" rx="12.8" ry="12.6"/>
<ellipse cx="1087.1" cy="1219.6" rx="14.1" ry="13.2"/>
<ellipse cx="1115.3" cy="1220.4" rx="14.2" ry="13.4"/>
<ellipse cx="988.2" cy="1221.6" rx="14.0" ry="14.5"/>
<ellipse cx="1022.9" cy="1229.3" rx="14.0" ry="13.5"/>
<ellipse cx="1144.1" cy="1222.0" rx="14.4" ry="14.3"/>
<ellipse cx="617.7" cy="1238.5" rx="13.7" ry="13.3"/>
<ellipse cx="648.3" cy="1239.3" rx="12.2" ry="12.3"/>
<ellipse cx="679.0" cy="1239.3" rx="12.5" ry="13.0"/>
<ellipse cx="588.3" cy="1249.8" rx="13.7" ry="13.6"/>
<ellipse cx="743.5" cy="1236.1" rx="13.3" ry="13.6"/>
<ellipse cx="774.6" cy="1240.9" rx="13.6" ry="13.3"/>
<ellipse cx="614.4" cy="1270.0" rx="14.3" ry="13.8"/>
<ellipse cx="658.0" cy="1270.8" rx="13.3" ry="13.4"/>
<ellipse cx="720.1" cy="1257.9" rx="12.3" ry="12.6"/>
<ellipse cx="589.1" cy="1285.3" rx="13.3" ry="13.7"/>
<ellipse cx="637.0" cy="1295.8" rx="12.6" ry="12.5"/>
<ellipse cx="692.7" cy="1288.5" rx="12.8" ry="12.6"/>
<ellipse cx="721.7" cy="1293.4" rx="12.4" ry="12.8"/>
<ellipse cx="748.4" cy="1274.0" rx="12.1" ry="12.7"/>
<ellipse cx="610.4" cy="1309.5" rx="13.6" ry="12.6"/>
<ellipse cx="582.6" cy="1314.4" rx="13.1" ry="12.6"/>
<ellipse cx="668.5" cy="1325.7" rx="13.7" ry="13.5"/>
<ellipse cx="700.0" cy="1319.2" rx="12.9" ry="13.5"/>
<ellipse cx="750.8" cy="1308.7" rx="12.7" ry="12.6"/>
<ellipse cx="640.3" cy="1340.2" rx="13.4" ry="14.1"/>
<ellipse cx="730.6" cy="1335.3" rx="14.0" ry="13.1"/>
<ellipse cx="600.7" cy="1339.4" rx="12.7" ry="13.5"/>
<ellipse cx="662.0" cy="1357.1" rx="13.4" ry="13.0"/>
<ellipse cx="714.5" cy="1359.5" rx="14.3" ry="13.8"/>
<ellipse cx="686.2" cy="1370.8" rx="12.0" ry="12.1"/>
<ellipse cx="626.5" cy="1369.2" rx="12.3" ry="12.3"/>
<ellipse cx="761.3" cy="1371.7" rx="14.2" ry="13.2"/>
<ellipse cx="606.4" cy="1393.0" rx="14.0" ry="14.5"/>
<ellipse cx="645.9" cy="1385.4" rx="14.6" ry="13.3"/>
<ellipse cx="713.7" cy="1389.7" rx="13.3" ry="13.8"/>
<ellipse cx="672.5" cy="1399.4" rx="12.5" ry="13.3"/>
<ellipse cx="741.9" cy="1404.2" rx="12.7" ry="12.6"/>
<ellipse cx="842.8" cy="1253.0" rx="14.3" ry="13.2"/>
<ellipse cx="883.1" cy="1240.1" rx="14.1" ry="14.2"/>
<ellipse cx="937.2" cy="1251.4" rx="14.1" ry="13.3"/>
<ellipse cx="964.9" cy="1241.8" rx="12.9" ry="13.7"/>
<ellipse cx="804.0" cy="1261.9" rx="13.1" ry="12.9"/>
<ellipse cx="888.8" cy="1270.8" rx="13.9" ry="14.0"/>
<ellipse cx="921.8" cy="1282.9" rx="13.2" ry="12.8"/>
<ellipse cx="960.9" cy="1272.8" rx="13.0" ry="13.6"/>
<ellipse cx="833.9" cy="1286.9" rx="14.0" ry="13.2"/>
<ellipse cx="865.4" cy="1294.2" rx="13.5" ry="13.2"/>
<ellipse cx="800.0" cy="1293.4" rx="14.5" ry="13.9"/>
<ellipse cx="945.2" cy="1304.7" rx="14.3" ry="13.7"/>
<ellipse cx="903.3" cy="1312.8" rx="12.6" ry="13.1"/>
<ellipse cx="798.4" cy="1324.9" rx="13.5" ry="14.1"/>
<ellipse cx="859.7" cy="1327.3" rx="12.3" ry="13.1"/>
<ellipse cx="932.3" cy="1332.1" rx="12.4" ry="12.6"/>
<ellipse cx="963.7" cy="1330.5" rx="13.7" ry="12.9"/>
<ellipse cx="826.6" cy="1341.8" rx="13.7" ry="12.6"/>
<ellipse cx="880.7" cy="1348.3" rx="13.4" ry="13.9"/>
<ellipse cx="909.7" cy="1356.3" rx="14.0" ry="13.6"/>
<ellipse cx="937.2" cy="1366.0" rx="12.5" ry="12.4"/>
<ellipse cx="800.8" cy="1364.4" rx="13.3" ry="13.2"/>
<ellipse cx="855.7" cy="1365.2" rx="13.6" ry="14.6"/>
<ellipse cx="828.3" cy="1375.7" rx="12.8" ry="12.4"/>
<ellipse cx="866.2" cy="1391.3" rx="14.0" ry="14.1"/>
<ellipse cx="902.5" cy="1388.1" rx="14.3" ry="13.6"/>
<ellipse cx="804.0" cy="1397.8" rx="13.5" ry="13.0"/>
<ellipse cx="778.2" cy="1398.3" rx="14.0" ry="14.3"/>
<ellipse cx="929.1" cy="1402.6" rx="13.0" ry="12.9"/>
<ellipse cx="962.5" cy="1393.2" rx="13.1" ry="13.5"/>
<ellipse cx="1061.2" cy="1239.3" rx="12.8" ry="13.5"/>
<ellipse cx="1097.5" cy="1246.6" rx="13.6" ry="13.9"/>
<ellipse cx="1127.4" cy="1249.8" rx="13.1" ry="13.3"/>
<ellipse cx="1007.2" cy="1261.1" rx="13.9" ry="14.0"/>
<ellipse cx="1040.3" cy="1266.0" rx="12.4" ry="12.3"/>
<ellipse cx="1071.7" cy="1267.6" rx="14.3" ry="14.5"/>
<ellipse cx="1108.0" cy="1276.4" rx="14.2" ry="14.7"/>
<ellipse cx="1143.9" cy="1277.3" rx="13.3" ry="14.1"/>
<ellipse cx="974.1" cy="1299.8" rx="14.6" ry="13.9"/>
<ellipse cx="1004.8" cy="1297.4" rx="13.7" ry="14.5"/>
<ellipse cx="1037.0" cy="1295.8" rx="13.7" ry="14.6"/>
<ellipse cx="1070.9" cy="1295.8" rx="12.4" ry="13.3"/>
<ellipse cx="1112.9" cy="1307.1" rx="13.1" ry="13.3"/>
<ellipse cx="1054.8" cy="1321.6" rx="13.1" ry="12.4"/>
<ellipse cx="1086.3" cy="1320.8" rx="13.1" ry="13.6"/>
<ellipse cx="1142.2" cy="1320.8" rx="13.4" ry="13.2"/>
<ellipse cx="999.1" cy="1329.7" rx="13.0" ry="12.5"/>
<ellipse cx="1117.7" cy="1338.6" rx="13.3" ry="13.2"/>
<ellipse cx="1029.0" cy="1345.0" rx="14.7" ry="14.6"/>
<ellipse cx="1059.6" cy="1354.7" rx="12.7" ry="13.0"/>
<ellipse cx="1091.9" cy="1352.3" rx="13.4" ry="13.4"/>
<ellipse cx="1137.1" cy="1361.2" rx="13.7" ry="12.9"/>
<ellipse cx="992.7" cy="1360.4" rx="13.9" ry="13.8"/>
<ellipse cx="1019.3" cy="1376.5" rx="12.8" ry="13.5"/>
<ellipse cx="1046.7" cy="1383.8" rx="12.2" ry="12.8"/>
<ellipse cx="1078.2" cy="1378.9" rx="13.0" ry="12.8"/>
<ellipse cx="1112.9" cy="1377.3" rx="13.4" ry="12.9"/>
<ellipse cx="990.2" cy="1389.7" rx="14.5" ry="14.7"/>
<ellipse cx="1140.6" cy="1394.6" rx="12.3" ry="12.1"/>
<ellipse cx="1026.5" cy="1407.8" rx="13.1" ry="12.7"/>
<ellipse cx="1065.3" cy="1406.2" rx="12.9" ry="13.2"/>
<ellipse cx="1095.9" cy="1406.2" rx="13.5" ry="12.9"/>
</g>
<g fill="#161b17" filter="url(#bl1)">
<polygon points="1151.8,861.2 1148.9,864.6 1144.9,867.0 1140.2,868.5 1137.3,871.1 1135.3,874.1 1133.4,878.2 1130.0,880.4 1125.6,881.4 1121.9,883.3 1121.2,886.5 1119.4,890.6 1114.8,892.2 1110.2,893.7 1106.6,897.0 1105.9,899.8 1104.4,901.2 1099.9,901.2 1095.5,902.3 1091.0,902.9 1084.5,903.3 1078.4,906.0 1074.3,908.2 1070.4,910.5 1066.1,912.3 1062.8,914.9 1058.9,916.9 1054.9,919.7 1050.1,920.7 1045.9,923.0 1040.6,924.6 1035.6,927.5 1031.0,929.6 1027.1,932.7 1021.5,936.5 1018.2,941.8 1016.2,945.3 1013.6,948.4 1010.7,953.1 1007.5,958.4 1005.9,962.9 1005.2,967.2 1004.4,971.1 1004.0,975.6 1001.4,979.2 1000.0,983.4 999.7,986.4 998.2,988.7 995.9,992.2 991.9,994.5 990.0,998.3 988.3,1000.0 987.0,1002.6 983.3,1004.8 980.5,1008.2 976.1,1009.6 972.4,1011.8 968.0,1012.6 965.2,1015.5 961.8,1018.0 959.0,1021.3 956.1,1024.5 952.0,1028.4 948.4,1032.6 945.9,1035.9 943.4,1039.1 941.6,1042.8 938.8,1045.8 936.6,1049.3 935.0,1051.9 932.4,1054.2 928.8,1056.8 925.7,1059.9 922.1,1062.4 919.1,1065.7 915.8,1068.7 913.0,1072.3 909.0,1074.2 905.6,1076.6 902.3,1079.1 899.7,1082.6 896.3,1085.0 893.1,1087.7 890.0,1090.4 886.7,1093.0 883.9,1095.5 880.3,1097.3 876.9,1100.0 873.1,1102.2 869.5,1104.5 865.6,1106.5 862.0,1109.0 858.7,1111.9 856.2,1115.3 852.9,1116.9 849.2,1118.4 845.2,1119.4 841.7,1121.3 838.1,1123.2 834.7,1125.5 831.2,1127.3 827.3,1129.1 823.5,1131.1 819.9,1132.9 816.1,1134.4 812.5,1136.1 809.4,1138.8 806.0,1140.9 802.6,1143.0 799.0,1144.9 795.8,1147.4 792.5,1149.6 789.0,1151.6 786.0,1154.3 782.8,1156.8 778.9,1158.9 774.9,1161.4 771.6,1163.9 768.4,1166.5 765.0,1169.0 762.1,1171.9 758.9,1174.7 756.3,1178.0 753.1,1180.7 749.8,1184.1 746.7,1187.8 743.5,1190.9 740.6,1194.3 737.8,1197.7 735.0,1201.0 732.0,1204.3 729.4,1207.0 726.8,1209.4 723.6,1212.0 720.2,1214.5 717.0,1217.2 714.0,1220.0 711.0,1223.0 708.2,1226.2 705.2,1229.0 701.6,1232.0 698.3,1235.3 695.2,1238.1 692.7,1241.5 690.6,1245.2 687.9,1248.3 685.0,1251.4 682.3,1254.5 679.8,1257.9 677.5,1261.1 674.7,1264.4 671.8,1267.9 668.7,1271.2 664.8,1273.7 661.7,1277.0 658.3,1280.3 655.9,1284.1 653.2,1287.3 650.7,1290.6 648.0,1293.8 645.1,1296.8 642.1,1299.7 639.7,1303.2 637.6,1306.8 635.0,1310.2 632.3,1313.6 629.4,1317.0 627.1,1320.8 623.9,1323.8 620.9,1327.1 618.0,1330.4 615.5,1334.1 612.7,1337.5 610.3,1341.2 607.9,1344.9 605.5,1348.6 602.3,1351.7 599.5,1355.1 596.9,1358.4 594.0,1361.6 590.5,1364.5 586.9,1367.3 583.8,1370.6 581.0,1374.2 578.1,1377.7 582.7,1382.3 586.2,1379.4 589.8,1376.6 593.1,1373.5 595.9,1369.9 598.8,1366.4 602.3,1363.2 605.2,1359.6 607.9,1356.1 610.2,1352.3 613.2,1349.2 616.3,1346.0 619.4,1342.8 622.1,1339.3 625.1,1336.1 627.8,1332.6 630.3,1329.0 632.6,1325.2 635.7,1322.1 638.4,1318.6 641.2,1315.2 644.0,1312.1 647.1,1309.4 650.1,1306.4 652.5,1302.9 654.9,1299.5 657.5,1296.2 660.3,1293.2 662.9,1289.9 665.9,1287.3 668.9,1284.2 672.2,1281.1 674.7,1277.2 678.0,1274.1 681.5,1271.2 685.1,1268.1 688.2,1264.9 691.0,1261.9 693.7,1258.6 696.1,1255.3 698.8,1252.0 702.0,1249.3 704.9,1246.3 707.2,1242.7 709.2,1239.6 712.0,1237.2 715.4,1234.7 719.0,1232.5 722.4,1230.2 725.8,1227.6 729.0,1225.0 732.0,1222.1 735.2,1219.4 739.0,1216.4 741.9,1212.3 744.5,1208.7 747.1,1205.2 749.9,1201.7 752.5,1198.2 754.8,1194.4 757.2,1191.3 760.3,1189.4 763.5,1186.7 767.3,1184.7 770.5,1182.1 774.0,1179.8 777.0,1176.9 780.2,1174.2 783.3,1171.4 785.7,1168.5 788.7,1166.5 792.3,1164.8 796.1,1163.3 799.5,1161.2 803.1,1159.3 806.7,1157.6 810.0,1155.4 813.5,1153.4 816.9,1151.4 820.8,1149.9 824.0,1147.6 827.1,1144.9 830.4,1142.6 833.5,1140.5 836.8,1138.7 840.5,1136.9 844.3,1135.6 847.9,1133.9 851.6,1132.2 854.8,1129.6 858.3,1127.5 862.2,1125.5 866.9,1124.1 870.8,1122.2 874.5,1119.9 877.8,1117.1 881.4,1114.6 884.8,1112.0 888.6,1109.9 892.3,1106.9 895.9,1104.0 899.0,1101.3 902.3,1098.7 905.5,1096.0 908.5,1093.0 912.3,1091.1 915.4,1088.3 918.4,1085.4 920.8,1081.9 924.9,1080.1 928.5,1077.5 932.4,1075.3 935.7,1072.4 939.4,1070.0 942.7,1067.1 947.0,1063.9 950.4,1060.1 953.3,1057.1 955.5,1053.7 958.7,1051.0 961.2,1047.8 963.8,1044.6 965.2,1042.4 967.9,1041.5 971.9,1039.9 976.1,1038.4 979.5,1036.1 983.6,1034.2 986.0,1029.9 989.2,1026.9 991.7,1023.1 995.8,1021.4 998.9,1018.4 1004.5,1015.8 1007.6,1010.6 1010.5,1007.5 1011.3,1002.9 1013.8,999.6 1017.1,995.0 1019.5,989.8 1020.9,985.7 1020.9,981.1 1023.3,977.3 1025.2,973.0 1026.8,968.2 1027.6,963.5 1026.7,959.7 1028.1,957.5 1029.8,953.8 1032.1,950.5 1033.1,948.9 1036.1,947.6 1040.7,945.5 1044.6,942.5 1048.2,940.2 1051.8,938.3 1056.5,937.2 1060.7,934.8 1065.6,934.2 1070.6,932.7 1075.6,931.2 1079.5,928.8 1083.8,927.0 1087.9,925.1 1090.1,923.7 1092.6,923.5 1097.1,923.3 1101.6,923.8 1106.1,923.1 1113.5,923.8 1121.0,921.8 1125.7,920.3 1129.3,917.0 1133.0,913.8 1139.4,913.1 1144.9,911.1 1147.5,907.9 1149.3,903.7 1152.1,900.8 1156.5,899.6 1160.7,897.5 1164.3,894.0 1166.1,889.3 1168.6,885.5 1172.2,882.8"/>
</g>
<g filter="url(#bl1)">
<ellipse cx="935.8" cy="1048.0" rx="5.7" ry="3.2" transform="rotate(131 935.8 1048.0)" fill="#8a6a40" opacity="0.55"/>
<ellipse cx="1081.7" cy="897.3" rx="5.8" ry="3.2" transform="rotate(161 1081.7 897.3)" fill="#8a6a40" opacity="0.55"/>
<ellipse cx="1034.3" cy="924.5" rx="6.1" ry="3.4" transform="rotate(151 1034.3 924.5)" fill="#8a6a40" opacity="0.55"/>
<ellipse cx="1134.9" cy="917.3" rx="5.9" ry="3.3" transform="rotate(-30 1134.9 917.3)" fill="#8a6a40" opacity="0.55"/>
<ellipse cx="1110.9" cy="931.0" rx="6.0" ry="3.3" transform="rotate(-4 1110.9 931.0)" fill="#8a6a40" opacity="0.55"/>
<ellipse cx="1006.1" cy="956.7" rx="5.7" ry="3.2" transform="rotate(110 1006.1 956.7)" fill="#8a6a40" opacity="0.55"/>
<ellipse cx="989.3" cy="985.9" rx="6.1" ry="3.4" transform="rotate(129 989.3 985.9)" fill="#8a6a40" opacity="0.55"/>
<ellipse cx="990.3" cy="1020.8" rx="6.3" ry="3.5" transform="rotate(-39 990.3 1020.8)" fill="#8a6a40" opacity="0.55"/>
<ellipse cx="774.4" cy="1154.1" rx="6.1" ry="3.4" transform="rotate(141 774.4 1154.1)" fill="#8a6a40" opacity="0.55"/>
<ellipse cx="906.6" cy="1071.5" rx="6.3" ry="3.5" transform="rotate(139 906.6 1071.5)" fill="#8a6a40" opacity="0.55"/>
<ellipse cx="903.7" cy="1108.0" rx="5.9" ry="3.3" transform="rotate(-37 903.7 1108.0)" fill="#8a6a40" opacity="0.55"/>
<ellipse cx="827.1" cy="1151.1" rx="6.3" ry="3.5" transform="rotate(-35 827.1 1151.1)" fill="#8a6a40" opacity="0.55"/>
<ellipse cx="683.2" cy="1243.4" rx="5.8" ry="3.2" transform="rotate(134 683.2 1243.4)" fill="#8a6a40" opacity="0.55"/>
<ellipse cx="661.6" cy="1275.6" rx="5.9" ry="3.3" transform="rotate(143 661.6 1275.6)" fill="#8a6a40" opacity="0.55"/>
<ellipse cx="641.6" cy="1299.5" rx="5.8" ry="3.2" transform="rotate(129 641.6 1299.5)" fill="#8a6a40" opacity="0.55"/>
<ellipse cx="635.1" cy="1336.8" rx="6.2" ry="3.4" transform="rotate(-57 635.1 1336.8)" fill="#8a6a40" opacity="0.55"/>
<ellipse cx="605.4" cy="1343.0" rx="5.9" ry="3.3" transform="rotate(128 605.4 1343.0)" fill="#8a6a40" opacity="0.55"/>
</g>
<ellipse cx="706.4" cy="903" rx="2.5" ry="4" fill="#151a20"/>
<ellipse cx="972.5" cy="912.7" rx="3.5" ry="3" fill="#151a20"/>
<ellipse cx="796" cy="1131.3" rx="3" ry="5" fill="#151a20"/>
<ellipse cx="934.8" cy="1157.9" rx="3" ry="2.5" fill="#151a20"/>
<ellipse cx="804" cy="1391.8" rx="2.5" ry="4" fill="#151a20"/>
<ellipse cx="1109" cy="1188" rx="2" ry="2" fill="#151a20"/>
<ellipse cx="1129" cy="1000" rx="1.5" ry="1.5" fill="#151a20"/>
<ellipse cx="893" cy="1072" rx="2" ry="2" fill="#151a20"/>
<polyline points="706.5,1177.1 691.6,1184.6 669.2,1204.5 636.8,1219.4 599.4,1224.4" fill="none" stroke="#2a302a" stroke-width="1.6"/>
</g>
<rect x="585.25" y="872.25" width="566.5" height="527" fill="none" stroke="#ff0000" stroke-width="4.5"/>
<g clip-path="url(#lc)">
<rect x="96.0" y="870.2" width="420.79999999999995" height="529.5" fill="#686f62"/>
<g fill="#e7f7be" stroke="#c0c09a" stroke-width="0.9" filter="url(#bl05)">
<circle cx="148.5" cy="1027.9" r="8.4"/>
<circle cx="166.4" cy="1025.2" r="8.7"/>
<circle cx="184.1" cy="1026.1" r="8.2"/>
<circle cx="202.4" cy="1029.8" r="8.4"/>
<circle cx="226.5" cy="1034.7" r="8.9"/>
<circle cx="242.4" cy="1036.2" r="8.3"/>
<circle cx="158.0" cy="1044.7" r="8.6"/>
<circle cx="172.6" cy="1040.9" r="8.2"/>
<circle cx="189.3" cy="1042.3" r="8.4"/>
<circle cx="205.4" cy="1047.4" r="8.6"/>
<circle cx="222.8" cy="1051.6" r="8.8"/>
<circle cx="145.7" cy="1057.5" r="8.9"/>
<circle cx="181.1" cy="1056.2" r="9.0"/>
<circle cx="195.8" cy="1063.7" r="8.4"/>
<circle cx="241.1" cy="1063.8" r="8.7"/>
<circle cx="155.8" cy="1071.0" r="8.5"/>
<circle cx="172.9" cy="1071.1" r="8.7"/>
<circle cx="222.4" cy="1070.5" r="9.0"/>
<circle cx="139.0" cy="1072.7" r="8.8"/>
<circle cx="188.8" cy="1081.1" r="9.0"/>
<circle cx="205.7" cy="1078.1" r="8.8"/>
<circle cx="159.1" cy="1087.5" r="8.7"/>
<circle cx="243.1" cy="1082.2" r="8.9"/>
<circle cx="173.6" cy="1091.8" r="8.9"/>
<circle cx="221.6" cy="1089.5" r="8.4"/>
<circle cx="138.0" cy="1088.1" r="8.2"/>
<circle cx="147.8" cy="1101.1" r="8.8"/>
<circle cx="201.5" cy="1096.3" r="9.0"/>
<circle cx="252.9" cy="1098.2" r="8.4"/>
<circle cx="185.8" cy="1104.7" r="8.2"/>
<circle cx="213.2" cy="1108.4" r="8.7"/>
<circle cx="234.2" cy="1109.2" r="8.9"/>
<circle cx="143.9" cy="1116.7" r="9.0"/>
<circle cx="160.5" cy="1119.5" r="8.6"/>
<circle cx="177.1" cy="1117.8" r="8.7"/>
<circle cx="194.3" cy="1118.8" r="8.6"/>
<circle cx="229.5" cy="1126.3" r="8.4"/>
<circle cx="248.5" cy="1125.2" r="8.6"/>
<circle cx="257.8" cy="1023.1" r="8.5"/>
<circle cx="269.6" cy="1037.6" r="8.7"/>
<circle cx="287.9" cy="1033.1" r="8.7"/>
<circle cx="305.5" cy="1023.5" r="8.5"/>
<circle cx="324.5" cy="1030.5" r="8.2"/>
<circle cx="350.3" cy="1024.1" r="9.0"/>
<circle cx="256.1" cy="1050.4" r="8.7"/>
<circle cx="294.6" cy="1049.5" r="8.4"/>
<circle cx="309.8" cy="1040.6" r="8.4"/>
<circle cx="328.9" cy="1049.2" r="8.2"/>
<circle cx="343.6" cy="1040.8" r="8.4"/>
<circle cx="364.6" cy="1046.1" r="8.4"/>
<circle cx="278.0" cy="1058.4" r="8.8"/>
<circle cx="315.1" cy="1058.0" r="8.5"/>
<circle cx="350.8" cy="1057.6" r="8.9"/>
<circle cx="262.5" cy="1070.4" r="8.7"/>
<circle cx="294.7" cy="1067.1" r="8.4"/>
<circle cx="332.4" cy="1068.4" r="8.3"/>
<circle cx="309.9" cy="1075.8" r="8.3"/>
<circle cx="363.2" cy="1070.1" r="8.7"/>
<circle cx="283.6" cy="1081.1" r="8.3"/>
<circle cx="268.3" cy="1088.6" r="8.4"/>
<circle cx="300.8" cy="1089.8" r="8.5"/>
<circle cx="330.1" cy="1086.6" r="8.3"/>
<circle cx="363.0" cy="1088.2" r="9.0"/>
<circle cx="349.2" cy="1096.0" r="9.0"/>
<circle cx="317.0" cy="1098.5" r="8.8"/>
<circle cx="282.6" cy="1105.1" r="8.6"/>
<circle cx="265.9" cy="1112.6" r="8.4"/>
<circle cx="301.4" cy="1108.7" r="8.4"/>
<circle cx="332.6" cy="1104.9" r="9.0"/>
<circle cx="320.5" cy="1118.4" r="9.0"/>
<circle cx="348.0" cy="1115.5" r="8.2"/>
<circle cx="367.9" cy="1025.7" r="8.4"/>
<circle cx="385.1" cy="1026.7" r="8.5"/>
<circle cx="402.2" cy="1017.1" r="8.5"/>
<circle cx="413.9" cy="1029.4" r="8.6"/>
<circle cx="430.4" cy="1026.3" r="8.3"/>
<circle cx="447.4" cy="1016.7" r="8.3"/>
<circle cx="385.6" cy="1042.9" r="8.9"/>
<circle cx="402.7" cy="1043.0" r="8.7"/>
<circle cx="465.6" cy="1041.8" r="8.4"/>
<circle cx="450.4" cy="1050.6" r="8.5"/>
<circle cx="385.8" cy="1063.6" r="8.2"/>
<circle cx="429.4" cy="1059.3" r="8.3"/>
<circle cx="412.8" cy="1067.7" r="8.9"/>
<circle cx="463.7" cy="1059.0" r="8.4"/>
<circle cx="444.3" cy="1068.9" r="8.7"/>
<circle cx="428.5" cy="1075.6" r="8.3"/>
<circle cx="377.2" cy="1079.4" r="8.7"/>
<circle cx="459.9" cy="1075.4" r="8.2"/>
<circle cx="477.4" cy="1069.2" r="8.7"/>
<circle cx="408.0" cy="1084.2" r="8.9"/>
<circle cx="442.5" cy="1088.0" r="8.5"/>
<circle cx="474.9" cy="1083.7" r="8.5"/>
<circle cx="422.8" cy="1093.4" r="8.4"/>
<circle cx="404.3" cy="1102.0" r="8.2"/>
<circle cx="456.5" cy="1099.0" r="9.0"/>
<circle cx="384.3" cy="1103.4" r="9.0"/>
<circle cx="475.0" cy="1098.2" r="8.6"/>
<circle cx="435.9" cy="1105.9" r="8.8"/>
<circle cx="417.1" cy="1113.5" r="8.8"/>
<circle cx="398.5" cy="1117.1" r="8.3"/>
<circle cx="465.4" cy="1113.0" r="8.3"/>
<circle cx="379.3" cy="1119.2" r="8.2"/>
<circle cx="449.4" cy="1116.7" r="8.3"/>
<circle cx="168.1" cy="1135.8" r="8.3"/>
<circle cx="189.2" cy="1138.4" r="8.9"/>
<circle cx="214.6" cy="1141.2" r="8.9"/>
<circle cx="241.9" cy="1143.1" r="8.6"/>
<circle cx="258.4" cy="1139.8" r="8.8"/>
<circle cx="159.5" cy="1151.1" r="8.5"/>
<circle cx="177.1" cy="1150.2" r="8.4"/>
<circle cx="145.6" cy="1162.1" r="8.7"/>
<circle cx="184.7" cy="1166.1" r="8.5"/>
<circle cx="215.2" cy="1159.7" r="8.5"/>
<circle cx="231.8" cy="1157.5" r="9.0"/>
<circle cx="250.5" cy="1159.8" r="8.3"/>
<circle cx="167.3" cy="1171.0" r="8.8"/>
<circle cx="147.2" cy="1180.5" r="8.7"/>
<circle cx="195.9" cy="1179.1" r="8.3"/>
<circle cx="213.5" cy="1178.2" r="8.6"/>
<circle cx="231.3" cy="1174.2" r="8.3"/>
<circle cx="256.6" cy="1178.7" r="8.7"/>
<circle cx="178.5" cy="1183.1" r="8.8"/>
<circle cx="162.2" cy="1189.3" r="8.8"/>
<circle cx="236.6" cy="1191.6" r="8.7"/>
<circle cx="199.3" cy="1196.5" r="8.2"/>
<circle cx="147.4" cy="1200.8" r="8.3"/>
<circle cx="175.2" cy="1200.8" r="8.9"/>
<circle cx="226.0" cy="1205.6" r="8.6"/>
<circle cx="260.9" cy="1207.1" r="8.9"/>
<circle cx="159.3" cy="1214.2" r="8.6"/>
<circle cx="189.2" cy="1211.9" r="8.5"/>
<circle cx="210.9" cy="1215.8" r="8.6"/>
<circle cx="297.6" cy="1126.4" r="8.8"/>
<circle cx="282.3" cy="1133.5" r="8.9"/>
<circle cx="313.4" cy="1135.6" r="8.4"/>
<circle cx="331.6" cy="1128.9" r="8.9"/>
<circle cx="276.1" cy="1149.5" r="8.9"/>
<circle cx="297.0" cy="1147.6" r="8.8"/>
<circle cx="365.1" cy="1135.8" r="8.9"/>
<circle cx="354.8" cy="1150.3" r="8.7"/>
<circle cx="336.0" cy="1154.4" r="8.5"/>
<circle cx="369.2" cy="1156.6" r="8.4"/>
<circle cx="269.9" cy="1166.1" r="8.5"/>
<circle cx="308.6" cy="1175.1" r="8.4"/>
<circle cx="292.2" cy="1180.8" r="9.0"/>
<circle cx="336.5" cy="1171.9" r="9.0"/>
<circle cx="354.6" cy="1172.0" r="8.8"/>
<circle cx="320.7" cy="1186.7" r="8.8"/>
<circle cx="278.0" cy="1197.3" r="8.8"/>
<circle cx="299.8" cy="1195.3" r="8.6"/>
<circle cx="337.6" cy="1189.9" r="8.5"/>
<circle cx="370.3" cy="1183.6" r="8.7"/>
<circle cx="353.4" cy="1199.5" r="8.7"/>
<circle cx="371.2" cy="1200.3" r="8.8"/>
<circle cx="294.5" cy="1210.9" r="8.3"/>
<circle cx="310.4" cy="1214.4" r="8.7"/>
<circle cx="337.6" cy="1215.4" r="8.6"/>
<circle cx="360.9" cy="1214.7" r="8.2"/>
<circle cx="278.6" cy="1220.0" r="8.7"/>
<circle cx="427.6" cy="1126.1" r="8.4"/>
<circle cx="378.8" cy="1139.7" r="8.2"/>
<circle cx="395.8" cy="1136.6" r="8.9"/>
<circle cx="414.4" cy="1136.6" r="8.5"/>
<circle cx="444.6" cy="1140.6" r="8.5"/>
<circle cx="470.4" cy="1133.5" r="8.4"/>
<circle cx="462.1" cy="1145.2" r="8.9"/>
<circle cx="388.3" cy="1155.0" r="8.3"/>
<circle cx="431.5" cy="1152.1" r="8.9"/>
<circle cx="415.2" cy="1158.2" r="8.3"/>
<circle cx="449.5" cy="1158.9" r="8.6"/>
<circle cx="479.8" cy="1152.5" r="8.4"/>
<circle cx="465.1" cy="1164.9" r="8.9"/>
<circle cx="385.6" cy="1174.1" r="8.5"/>
<circle cx="435.0" cy="1171.7" r="8.7"/>
<circle cx="405.4" cy="1179.0" r="8.4"/>
<circle cx="422.8" cy="1183.6" r="8.7"/>
<circle cx="454.6" cy="1181.2" r="8.9"/>
<circle cx="478.8" cy="1176.4" r="8.6"/>
<circle cx="388.0" cy="1191.1" r="8.6"/>
<circle cx="439.9" cy="1189.5" r="8.7"/>
<circle cx="471.0" cy="1191.7" r="9.0"/>
<circle cx="410.0" cy="1200.4" r="8.9"/>
<circle cx="427.2" cy="1201.4" r="8.5"/>
<circle cx="445.3" cy="1208.9" r="8.6"/>
<circle cx="461.9" cy="1208.5" r="8.9"/>
<circle cx="387.1" cy="1212.8" r="8.9"/>
<circle cx="407.8" cy="1216.1" r="8.8"/>
<circle cx="479.0" cy="1208.6" r="8.9"/>
<circle cx="169.5" cy="1232.6" r="8.6"/>
<circle cx="187.6" cy="1232.2" r="8.3"/>
<circle cx="205.6" cy="1231.3" r="8.3"/>
<circle cx="152.5" cy="1239.7" r="8.8"/>
<circle cx="243.5" cy="1227.7" r="8.7"/>
<circle cx="262.0" cy="1229.6" r="8.8"/>
<circle cx="168.6" cy="1250.3" r="9.0"/>
<circle cx="194.3" cy="1249.5" r="8.5"/>
<circle cx="230.4" cy="1240.5" r="8.4"/>
<circle cx="154.2" cy="1259.5" r="8.9"/>
<circle cx="182.7" cy="1264.0" r="8.3"/>
<circle cx="215.3" cy="1258.4" r="8.5"/>
<circle cx="232.5" cy="1260.3" r="8.3"/>
<circle cx="247.6" cy="1248.7" r="8.2"/>
<circle cx="167.5" cy="1272.4" r="8.5"/>
<circle cx="151.3" cy="1275.9" r="8.5"/>
<circle cx="202.2" cy="1279.8" r="9.0"/>
<circle cx="220.6" cy="1275.3" r="8.6"/>
<circle cx="250.2" cy="1268.0" r="8.5"/>
<circle cx="186.1" cy="1288.7" r="8.8"/>
<circle cx="239.1" cy="1283.4" r="8.6"/>
<circle cx="162.8" cy="1289.3" r="8.4"/>
<circle cx="199.5" cy="1297.5" r="8.7"/>
<circle cx="230.4" cy="1297.4" r="8.8"/>
<circle cx="214.2" cy="1304.5" r="8.2"/>
<circle cx="178.9" cy="1305.2" r="8.3"/>
<circle cx="258.4" cy="1302.8" r="8.8"/>
<circle cx="167.8" cy="1319.0" r="9.0"/>
<circle cx="190.9" cy="1313.7" r="9.0"/>
<circle cx="230.9" cy="1314.2" r="8.4"/>
<circle cx="207.0" cy="1320.8" r="8.2"/>
<circle cx="248.0" cy="1321.5" r="8.3"/>
<circle cx="302.5" cy="1234.4" r="8.8"/>
<circle cx="325.9" cy="1226.1" r="8.8"/>
<circle cx="358.1" cy="1230.8" r="8.7"/>
<circle cx="374.1" cy="1224.7" r="8.5"/>
<circle cx="280.0" cy="1240.4" r="8.6"/>
<circle cx="330.2" cy="1243.0" r="8.8"/>
<circle cx="350.0" cy="1248.8" r="8.5"/>
<circle cx="372.7" cy="1242.1" r="8.8"/>
<circle cx="298.4" cy="1253.5" r="8.8"/>
<circle cx="317.2" cy="1256.7" r="8.4"/>
<circle cx="278.6" cy="1258.1" r="9.0"/>
<circle cx="364.5" cy="1260.3" r="9.0"/>
<circle cx="340.1" cy="1266.0" r="8.5"/>
<circle cx="278.7" cy="1275.7" r="9.0"/>
<circle cx="314.9" cy="1275.3" r="8.3"/>
<circle cx="357.8" cy="1276.0" r="8.4"/>
<circle cx="376.2" cy="1274.2" r="8.7"/>
<circle cx="295.9" cy="1284.3" r="8.4"/>
<circle cx="327.9" cy="1286.4" r="8.7"/>
<circle cx="345.3" cy="1290.1" r="8.7"/>
<circle cx="361.8" cy="1294.7" r="8.3"/>
<circle cx="281.4" cy="1297.6" r="8.9"/>
<circle cx="313.8" cy="1296.6" r="9.0"/>
<circle cx="297.9" cy="1303.2" r="8.2"/>
<circle cx="320.8" cy="1310.8" r="8.9"/>
<circle cx="342.1" cy="1308.0" r="8.8"/>
<circle cx="284.4" cy="1316.2" r="8.7"/>
<circle cx="269.2" cy="1317.2" r="8.9"/>
<circle cx="358.2" cy="1315.4" r="8.3"/>
<circle cx="377.6" cy="1309.2" r="8.8"/>
<circle cx="430.7" cy="1220.6" r="8.6"/>
<circle cx="452.3" cy="1223.6" r="8.8"/>
<circle cx="470.0" cy="1224.6" r="8.7"/>
<circle cx="399.6" cy="1234.3" r="9.1"/>
<circle cx="419.2" cy="1236.0" r="8.2"/>
<circle cx="437.8" cy="1236.1" r="9.0"/>
<circle cx="459.5" cy="1240.0" r="9.1"/>
<circle cx="480.6" cy="1239.4" r="8.6"/>
<circle cx="381.4" cy="1256.8" r="9.0"/>
<circle cx="399.4" cy="1254.6" r="8.9"/>
<circle cx="418.3" cy="1252.8" r="9.0"/>
<circle cx="438.3" cy="1251.8" r="8.3"/>
<circle cx="463.3" cy="1256.9" r="8.4"/>
<circle cx="429.6" cy="1266.7" r="8.2"/>
<circle cx="448.1" cy="1265.3" r="8.6"/>
<circle cx="481.1" cy="1263.8" r="8.8"/>
<circle cx="397.1" cy="1272.7" r="8.4"/>
<circle cx="467.2" cy="1274.3" r="8.3"/>
<circle cx="415.2" cy="1280.4" r="9.0"/>
<circle cx="433.5" cy="1285.0" r="8.5"/>
<circle cx="452.5" cy="1282.7" r="8.6"/>
<circle cx="479.3" cy="1286.4" r="8.5"/>
<circle cx="394.3" cy="1290.0" r="8.6"/>
<circle cx="410.5" cy="1298.3" r="8.4"/>
<circle cx="426.9" cy="1301.5" r="8.2"/>
<circle cx="445.2" cy="1297.9" r="8.6"/>
<circle cx="465.6" cy="1296.1" r="8.3"/>
<circle cx="393.8" cy="1306.4" r="9.0"/>
<circle cx="482.5" cy="1304.9" r="8.2"/>
<circle cx="415.8" cy="1315.5" r="8.6"/>
<circle cx="438.5" cy="1313.5" r="8.7"/>
<circle cx="456.6" cy="1312.7" r="8.4"/>
<circle cx="362.1" cy="1360.3" r="7.6"/>
<circle cx="424.0" cy="990.7" r="7.9"/>
<circle cx="238.3" cy="1336.3" r="8.0"/>
<circle cx="90.0" cy="1312.1" r="7.5"/>
<circle cx="209.8" cy="1004.6" r="7.6"/>
<circle cx="522.8" cy="1286.3" r="8.2"/>
<circle cx="365.8" cy="1405.7" r="7.6"/>
<circle cx="186.6" cy="945.6" r="7.6"/>
<circle cx="348.2" cy="880.2" r="8.3"/>
<circle cx="106.6" cy="1152.8" r="8.0"/>
<circle cx="285.9" cy="1366.6" r="7.8"/>
<circle cx="303.0" cy="1001.8" r="7.9"/>
<circle cx="90.0" cy="962.6" r="8.0"/>
<circle cx="392.8" cy="991.5" r="7.7"/>
<circle cx="254.6" cy="872.0" r="7.6"/>
<circle cx="461.8" cy="949.4" r="8.1"/>
<circle cx="208.1" cy="1340.6" r="8.0"/>
<circle cx="317.5" cy="1331.3" r="7.9"/>
<circle cx="138.2" cy="1146.5" r="8.2"/>
<circle cx="300.9" cy="1336.8" r="7.9"/>
<circle cx="106.4" cy="1062.0" r="8.3"/>
<circle cx="230.7" cy="941.7" r="7.7"/>
<circle cx="522.8" cy="1185.3" r="7.9"/>
<circle cx="379.0" cy="928.3" r="7.9"/>
<circle cx="272.1" cy="986.5" r="7.8"/>
<circle cx="277.1" cy="907.1" r="8.0"/>
<circle cx="509.3" cy="993.7" r="7.7"/>
<circle cx="149.6" cy="1322.7" r="8.1"/>
<circle cx="502.1" cy="1363.4" r="8.2"/>
<circle cx="325.7" cy="942.9" r="7.6"/>
<circle cx="182.0" cy="1368.7" r="7.9"/>
<circle cx="341.7" cy="951.5" r="7.7"/>
<circle cx="254.7" cy="988.5" r="7.6"/>
<circle cx="116.8" cy="1344.9" r="8.2"/>
<circle cx="104.9" cy="1044.7" r="7.8"/>
<circle cx="108.4" cy="919.1" r="7.6"/>
<circle cx="509.2" cy="1221.7" r="8.0"/>
<circle cx="432.7" cy="1371.1" r="7.7"/>
<circle cx="164.5" cy="1371.7" r="8.2"/>
<circle cx="90.2" cy="1277.1" r="7.7"/>
<circle cx="430.6" cy="936.1" r="7.5"/>
<circle cx="90.0" cy="1208.0" r="7.7"/>
<circle cx="386.7" cy="1009.3" r="7.8"/>
<circle cx="492.2" cy="1164.9" r="7.9"/>
<circle cx="220.0" cy="990.5" r="8.2"/>
<circle cx="491.0" cy="1113.2" r="8.1"/>
<circle cx="521.0" cy="1130.6" r="7.8"/>
<circle cx="330.5" cy="1358.5" r="7.5"/>
<circle cx="252.9" cy="1346.2" r="7.6"/>
<circle cx="262.3" cy="1361.0" r="8.3"/>
<circle cx="120.5" cy="1089.2" r="7.9"/>
<circle cx="311.6" cy="1384.3" r="8.1"/>
<circle cx="358.0" cy="1390.0" r="7.5"/>
<circle cx="192.2" cy="883.0" r="7.5"/>
<circle cx="192.9" cy="1352.4" r="8.2"/>
<circle cx="447.6" cy="920.5" r="8.0"/>
<circle cx="225.3" cy="1387.2" r="7.7"/>
<circle cx="356.9" cy="937.1" r="7.8"/>
<circle cx="105.5" cy="1079.6" r="7.6"/>
<circle cx="404.0" cy="920.7" r="7.6"/>
<circle cx="461.8" cy="880.9" r="7.5"/>
<circle cx="108.6" cy="881.2" r="8.2"/>
<circle cx="198.0" cy="991.7" r="7.9"/>
<circle cx="90.0" cy="1190.3" r="7.6"/>
<circle cx="90.1" cy="1035.5" r="8.1"/>
<circle cx="522.7" cy="1148.0" r="7.7"/>
<circle cx="358.9" cy="955.8" r="7.5"/>
<circle cx="330.6" cy="882.8" r="8.0"/>
<circle cx="426.9" cy="1388.1" r="8.2"/>
<circle cx="444.8" cy="886.2" r="7.5"/>
<circle cx="134.4" cy="1212.2" r="8.1"/>
<circle cx="133.9" cy="1279.2" r="7.7"/>
<circle cx="462.7" cy="985.4" r="7.6"/>
<circle cx="328.5" cy="915.6" r="7.5"/>
<circle cx="455.8" cy="1350.1" r="7.7"/>
<circle cx="158.7" cy="864.6" r="8.1"/>
<circle cx="359.2" cy="991.0" r="7.9"/>
<circle cx="326.8" cy="1375.7" r="8.2"/>
<circle cx="243.3" cy="975.0" r="7.7"/>
<circle cx="128.2" cy="1056.0" r="7.8"/>
<circle cx="145.6" cy="1224.6" r="7.7"/>
<circle cx="180.7" cy="993.0" r="8.3"/>
<circle cx="123.2" cy="1265.4" r="8.3"/>
<circle cx="106.3" cy="1284.0" r="7.8"/>
<circle cx="140.4" cy="932.2" r="7.8"/>
<circle cx="146.7" cy="915.2" r="7.8"/>
<circle cx="471.7" cy="1007.2" r="8.1"/>
<circle cx="361.5" cy="973.5" r="7.5"/>
<circle cx="277.4" cy="1350.5" r="7.6"/>
<circle cx="137.2" cy="1255.3" r="7.8"/>
<circle cx="428.2" cy="1327.9" r="7.7"/>
<circle cx="119.7" cy="1141.2" r="8.2"/>
<circle cx="394.8" cy="1351.3" r="8.1"/>
<circle cx="143.6" cy="963.1" r="7.9"/>
<circle cx="400.8" cy="1405.7" r="8.0"/>
<circle cx="499.4" cy="1323.3" r="8.1"/>
<circle cx="372.7" cy="944.6" r="8.1"/>
<circle cx="101.1" cy="1335.8" r="8.2"/>
<circle cx="499.4" cy="1079.7" r="7.6"/>
<circle cx="156.2" cy="1268.7" r="8.0"/>
<circle cx="522.8" cy="934.5" r="7.6"/>
<circle cx="399.7" cy="1323.1" r="7.9"/>
<circle cx="481.9" cy="935.7" r="8.1"/>
<circle cx="126.9" cy="1405.6" r="8.2"/>
<circle cx="122.7" cy="934.8" r="8.1"/>
<circle cx="419.9" cy="970.5" r="7.5"/>
<circle cx="494.8" cy="983.7" r="7.8"/>
<circle cx="426.6" cy="893.2" r="7.6"/>
<circle cx="289.9" cy="888.6" r="8.3"/>
<circle cx="109.7" cy="1401.6" r="7.6"/>
<circle cx="484.5" cy="1366.9" r="7.7"/>
<circle cx="194.4" cy="929.9" r="7.8"/>
<circle cx="90.0" cy="1123.1" r="7.5"/>
<circle cx="151.2" cy="947.3" r="8.2"/>
<circle cx="472.1" cy="970.4" r="8.0"/>
<circle cx="166.4" cy="915.8" r="7.6"/>
<circle cx="513.6" cy="1377.6" r="7.9"/>
<circle cx="196.0" cy="1402.6" r="7.6"/>
<circle cx="312.0" cy="1366.2" r="8.0"/>
<circle cx="106.0" cy="1026.8" r="7.7"/>
<circle cx="337.3" cy="900.2" r="7.5"/>
<circle cx="387.2" cy="1335.4" r="7.6"/>
<circle cx="488.6" cy="1192.3" r="7.9"/>
<circle cx="240.2" cy="1376.9" r="8.0"/>
<circle cx="132.5" cy="1382.6" r="7.8"/>
<circle cx="508.8" cy="1102.1" r="8.0"/>
<circle cx="375.8" cy="995.4" r="7.8"/>
<circle cx="120.0" cy="1248.1" r="7.6"/>
<circle cx="91.0" cy="1370.6" r="7.8"/>
<circle cx="413.8" cy="905.5" r="7.8"/>
<circle cx="484.5" cy="891.9" r="8.2"/>
<circle cx="347.1" cy="1003.8" r="7.6"/>
<circle cx="175.6" cy="1334.8" r="7.6"/>
<circle cx="90.1" cy="1070.9" r="7.9"/>
<circle cx="265.1" cy="947.5" r="8.3"/>
<circle cx="217.0" cy="1020.2" r="8.2"/>
<circle cx="284.0" cy="1405.7" r="8.1"/>
<circle cx="507.4" cy="1346.5" r="7.6"/>
<circle cx="237.3" cy="991.6" r="8.1"/>
<circle cx="382.2" cy="888.9" r="8.0"/>
<circle cx="296.9" cy="961.5" r="7.6"/>
<circle cx="105.8" cy="1266.5" r="7.9"/>
<circle cx="93.2" cy="1225.1" r="7.5"/>
<circle cx="188.2" cy="1385.6" r="8.1"/>
<circle cx="211.8" cy="899.6" r="8.1"/>
<circle cx="395.0" cy="971.3" r="8.1"/>
<circle cx="488.2" cy="1223.7" r="8.1"/>
<circle cx="309.2" cy="949.0" r="7.7"/>
<circle cx="158.0" cy="931.1" r="8.1"/>
<circle cx="156.9" cy="1010.4" r="7.7"/>
<circle cx="522.8" cy="880.0" r="7.6"/>
<circle cx="168.9" cy="946.5" r="7.8"/>
<circle cx="288.7" cy="869.5" r="7.9"/>
<circle cx="280.5" cy="939.2" r="7.7"/>
<circle cx="445.4" cy="955.3" r="8.0"/>
<circle cx="490.1" cy="1350.2" r="8.0"/>
<circle cx="372.7" cy="871.0" r="7.7"/>
<circle cx="445.0" cy="986.5" r="8.0"/>
<circle cx="516.8" cy="1321.1" r="7.8"/>
<circle cx="106.2" cy="1319.0" r="8.1"/>
<circle cx="482.0" cy="1401.2" r="7.7"/>
<circle cx="509.4" cy="1196.7" r="8.1"/>
<circle cx="90.0" cy="1259.5" r="7.8"/>
<circle cx="241.3" cy="908.4" r="7.9"/>
<circle cx="161.0" cy="962.4" r="8.0"/>
<circle cx="486.1" cy="1017.3" r="7.9"/>
<circle cx="90.0" cy="1294.6" r="7.7"/>
<circle cx="204.5" cy="944.7" r="8.3"/>
<circle cx="174.3" cy="1009.4" r="7.6"/>
<circle cx="493.4" cy="1001.5" r="7.8"/>
<circle cx="395.3" cy="936.0" r="7.9"/>
<circle cx="434.3" cy="909.0" r="7.5"/>
<circle cx="333.2" cy="1323.1" r="7.6"/>
<circle cx="139.3" cy="1010.2" r="8.1"/>
<circle cx="266.1" cy="1334.5" r="8.1"/>
<circle cx="98.2" cy="1388.1" r="8.0"/>
<circle cx="408.0" cy="983.2" r="8.2"/>
<circle cx="422.2" cy="1010.9" r="8.1"/>
<circle cx="315.6" cy="1348.9" r="7.7"/>
<circle cx="290.8" cy="1014.3" r="8.0"/>
<circle cx="221.9" cy="914.0" r="7.8"/>
<circle cx="192.1" cy="1008.6" r="8.1"/>
<circle cx="158.8" cy="899.9" r="7.8"/>
<circle cx="310.8" cy="972.5" r="7.6"/>
<circle cx="415.3" cy="1374.1" r="8.2"/>
<circle cx="137.2" cy="1335.5" r="8.1"/>
<circle cx="133.1" cy="1191.0" r="8.1"/>
<circle cx="461.4" cy="1333.2" r="7.9"/>
<circle cx="90.0" cy="1140.6" r="8.1"/>
<circle cx="128.7" cy="995.2" r="7.9"/>
<circle cx="271.0" cy="1394.2" r="8.0"/>
<circle cx="229.1" cy="896.0" r="7.6"/>
<circle cx="253.0" cy="926.2" r="7.9"/>
<circle cx="131.1" cy="1173.9" r="8.2"/>
<circle cx="508.3" cy="1158.1" r="8.1"/>
<circle cx="344.6" cy="968.8" r="8.1"/>
<circle cx="448.0" cy="937.9" r="7.9"/>
<circle cx="269.0" cy="1004.2" r="8.2"/>
<circle cx="121.4" cy="1327.9" r="7.6"/>
<circle cx="492.8" cy="921.9" r="8.2"/>
<circle cx="213.7" cy="961.0" r="7.8"/>
<circle cx="450.0" cy="1367.9" r="7.6"/>
<circle cx="121.3" cy="1039.8" r="8.0"/>
<circle cx="481.0" cy="909.0" r="7.9"/>
<circle cx="270.7" cy="924.7" r="7.8"/>
<circle cx="240.6" cy="1396.2" r="8.2"/>
<circle cx="412.9" cy="936.9" r="7.6"/>
<circle cx="423.6" cy="874.6" r="8.0"/>
<circle cx="478.9" cy="953.0" r="7.8"/>
<circle cx="323.3" cy="960.2" r="7.9"/>
<circle cx="146.1" cy="994.0" r="7.9"/>
<circle cx="106.1" cy="969.0" r="7.6"/>
<circle cx="210.8" cy="882.0" r="7.9"/>
<circle cx="461.5" cy="1381.4" r="8.2"/>
<circle cx="216.0" cy="931.5" r="7.6"/>
<circle cx="513.9" cy="949.8" r="7.5"/>
<circle cx="142.7" cy="1397.5" r="7.6"/>
<circle cx="387.9" cy="913.2" r="7.9"/>
<circle cx="464.3" cy="914.4" r="8.3"/>
<circle cx="138.6" cy="1041.7" r="7.5"/>
<circle cx="482.0" cy="874.5" r="8.3"/>
<circle cx="496.5" cy="1208.2" r="7.9"/>
<circle cx="116.6" cy="1186.0" r="7.6"/>
<circle cx="522.8" cy="964.9" r="7.8"/>
<circle cx="438.8" cy="1354.5" r="7.7"/>
<circle cx="522.8" cy="1004.8" r="8.1"/>
<circle cx="286.4" cy="1384.4" r="7.9"/>
<circle cx="512.7" cy="1068.1" r="7.7"/>
<circle cx="516.3" cy="1086.1" r="7.7"/>
<circle cx="142.6" cy="893.0" r="8.2"/>
<circle cx="189.3" cy="976.5" r="8.1"/>
<circle cx="176.2" cy="930.6" r="7.8"/>
<circle cx="90.0" cy="1088.1" r="7.8"/>
<circle cx="334.7" cy="1016.2" r="8.1"/>
<circle cx="339.9" cy="932.7" r="8.3"/>
<circle cx="397.6" cy="898.3" r="7.6"/>
<circle cx="506.3" cy="970.4" r="7.6"/>
<circle cx="208.0" cy="977.5" r="7.8"/>
<circle cx="522.5" cy="1024.0" r="7.9"/>
<circle cx="331.1" cy="1400.9" r="7.6"/>
<circle cx="511.5" cy="893.4" r="7.5"/>
<circle cx="238.6" cy="864.2" r="7.7"/>
<circle cx="95.5" cy="1174.3" r="7.8"/>
<circle cx="125.8" cy="964.0" r="8.1"/>
<circle cx="248.6" cy="892.5" r="8.0"/>
<circle cx="108.7" cy="1362.1" r="7.5"/>
<circle cx="267.3" cy="969.6" r="7.5"/>
<circle cx="406.8" cy="864.2" r="7.9"/>
<circle cx="206.8" cy="1388.4" r="8.2"/>
<circle cx="131.3" cy="1025.7" r="8.2"/>
<circle cx="90.8" cy="981.3" r="7.8"/>
<circle cx="90.4" cy="927.0" r="8.2"/>
<circle cx="363.5" cy="919.8" r="8.2"/>
<circle cx="157.0" cy="1355.7" r="7.8"/>
<circle cx="121.4" cy="1310.0" r="8.1"/>
<circle cx="346.1" cy="916.4" r="7.8"/>
<circle cx="496.8" cy="1288.4" r="7.6"/>
<circle cx="93.8" cy="1351.7" r="8.0"/>
<circle cx="105.3" cy="936.4" r="7.6"/>
<circle cx="174.5" cy="881.0" r="8.0"/>
<circle cx="456.6" cy="1398.7" r="8.1"/>
<circle cx="193.1" cy="1331.4" r="8.2"/>
<circle cx="279.7" cy="957.1" r="7.9"/>
<circle cx="467.1" cy="1363.9" r="7.6"/>
<circle cx="239.7" cy="1018.9" r="8.2"/>
<circle cx="487.7" cy="1130.3" r="8.2"/>
<circle cx="126.5" cy="883.3" r="8.3"/>
<circle cx="522.8" cy="1167.7" r="8.0"/>
<circle cx="105.2" cy="1131.7" r="8.0"/>
<circle cx="496.3" cy="1381.1" r="7.8"/>
<circle cx="133.7" cy="948.5" r="7.6"/>
<circle cx="342.4" cy="986.3" r="7.7"/>
<circle cx="441.0" cy="869.0" r="8.1"/>
<circle cx="396.4" cy="953.7" r="7.8"/>
<circle cx="299.0" cy="1396.6" r="8.1"/>
<circle cx="104.6" cy="1008.6" r="7.9"/>
<circle cx="90.0" cy="1157.9" r="7.9"/>
<circle cx="174.4" cy="1352.7" r="8.3"/>
<circle cx="504.4" cy="1124.5" r="7.6"/>
<circle cx="283.6" cy="1333.7" r="7.9"/>
<circle cx="498.3" cy="905.2" r="7.6"/>
<circle cx="119.4" cy="980.4" r="8.2"/>
<circle cx="355.5" cy="901.6" r="7.9"/>
<circle cx="383.1" cy="1387.3" r="7.8"/>
<circle cx="522.8" cy="1338.0" r="7.6"/>
<circle cx="454.5" cy="969.9" r="8.0"/>
<circle cx="522.8" cy="982.5" r="7.8"/>
<circle cx="473.0" cy="1346.5" r="7.6"/>
<circle cx="235.5" cy="924.9" r="7.5"/>
<circle cx="145.3" cy="1292.5" r="7.8"/>
<circle cx="496.4" cy="951.2" r="8.0"/>
<circle cx="90.0" cy="999.0" r="7.9"/>
<circle cx="171.7" cy="977.6" r="8.2"/>
<circle cx="252.7" cy="960.1" r="8.2"/>
<circle cx="479.0" cy="991.3" r="8.2"/>
<circle cx="479.9" cy="1051.9" r="8.1"/>
<circle cx="298.9" cy="1354.5" r="7.9"/>
<circle cx="372.9" cy="903.9" r="7.9"/>
<circle cx="158.7" cy="1405.5" r="7.8"/>
<circle cx="90.0" cy="1018.0" r="7.8"/>
<circle cx="496.4" cy="864.2" r="7.5"/>
<circle cx="154.2" cy="978.5" r="8.1"/>
<circle cx="121.1" cy="1117.7" r="7.7"/>
<circle cx="138.9" cy="1308.8" r="7.5"/>
<circle cx="408.0" cy="1000.5" r="7.9"/>
<circle cx="521.9" cy="1235.8" r="8.1"/>
<circle cx="427.8" cy="953.5" r="7.8"/>
<circle cx="332.5" cy="1340.7" r="7.8"/>
<circle cx="210.2" cy="1358.2" r="8.0"/>
<circle cx="270.7" cy="1376.5" r="7.6"/>
<circle cx="498.6" cy="881.6" r="7.5"/>
<circle cx="522.2" cy="1209.2" r="8.0"/>
<circle cx="132.5" cy="1129.9" r="7.9"/>
<circle cx="112.2" cy="1169.2" r="8.2"/>
<circle cx="444.2" cy="1385.0" r="7.8"/>
<circle cx="90.0" cy="1053.4" r="8.1"/>
<circle cx="504.0" cy="935.5" r="7.5"/>
<circle cx="224.5" cy="1347.2" r="7.5"/>
<circle cx="129.2" cy="918.5" r="8.0"/>
<circle cx="407.3" cy="1339.0" r="7.7"/>
<circle cx="104.5" cy="1198.6" r="7.6"/>
<circle cx="522.6" cy="1113.0" r="7.6"/>
<circle cx="421.7" cy="921.2" r="7.8"/>
<circle cx="450.9" cy="902.9" r="7.8"/>
<circle cx="437.1" cy="970.9" r="8.0"/>
<circle cx="467.1" cy="864.2" r="8.2"/>
<circle cx="130.5" cy="1103.6" r="7.8"/>
<circle cx="105.2" cy="1096.9" r="7.6"/>
<circle cx="340.9" cy="1386.0" r="8.0"/>
<circle cx="346.7" cy="1351.9" r="7.5"/>
<circle cx="507.0" cy="1012.6" r="7.8"/>
<circle cx="156.6" cy="1305.7" r="7.8"/>
<circle cx="222.1" cy="1329.9" r="7.8"/>
<circle cx="122.0" cy="1292.1" r="7.5"/>
<circle cx="114.2" cy="1380.3" r="7.9"/>
<circle cx="158.3" cy="1338.3" r="8.0"/>
<circle cx="287.9" cy="921.1" r="8.1"/>
<circle cx="315.2" cy="989.4" r="8.3"/>
<circle cx="314.2" cy="1405.4" r="7.8"/>
<circle cx="148.2" cy="1132.9" r="8.0"/>
<circle cx="492.4" cy="1095.7" r="7.9"/>
<circle cx="223.9" cy="1369.6" r="7.7"/>
<circle cx="136.9" cy="979.2" r="8.2"/>
<circle cx="134.4" cy="1238.1" r="8.1"/>
<circle cx="238.6" cy="1357.8" r="8.3"/>
<circle cx="478.7" cy="1383.7" r="8.2"/>
<circle cx="200.0" cy="867.2" r="8.2"/>
<circle cx="255.3" cy="1386.2" r="7.6"/>
<circle cx="410.2" cy="886.1" r="7.5"/>
<circle cx="384.1" cy="1366.7" r="7.7"/>
<circle cx="498.8" cy="1243.6" r="7.8"/>
<circle cx="484.9" cy="1333.1" r="8.1"/>
<circle cx="258.9" cy="909.6" r="7.9"/>
<circle cx="256.5" cy="1404.7" r="7.9"/>
<circle cx="499.7" cy="1028.5" r="8.1"/>
<circle cx="521.9" cy="1356.6" r="7.6"/>
<circle cx="127.4" cy="1365.7" r="8.0"/>
<circle cx="180.4" cy="864.3" r="7.5"/>
<circle cx="109.3" cy="901.3" r="7.7"/>
<circle cx="306.3" cy="867.9" r="8.1"/>
<circle cx="105.6" cy="990.9" r="8.0"/>
<circle cx="464.6" cy="932.1" r="7.8"/>
<circle cx="489.1" cy="967.2" r="7.7"/>
<circle cx="398.0" cy="1377.2" r="8.2"/>
<circle cx="107.0" cy="1236.1" r="7.7"/>
<circle cx="514.0" cy="864.4" r="7.5"/>
<circle cx="348.3" cy="1405.3" r="7.7"/>
<circle cx="317.9" cy="1011.2" r="7.5"/>
<circle cx="196.1" cy="960.3" r="8.1"/>
<circle cx="274.9" cy="1020.9" r="7.6"/>
<circle cx="443.6" cy="1337.3" r="8.3"/>
<circle cx="493.8" cy="1063.0" r="7.7"/>
<circle cx="369.4" cy="1376.4" r="7.7"/>
<circle cx="146.2" cy="1370.7" r="8.0"/>
<circle cx="377.3" cy="1350.3" r="7.7"/>
<circle cx="378.5" cy="978.2" r="7.8"/>
<circle cx="106.2" cy="1301.5" r="7.6"/>
<circle cx="122.6" cy="1225.3" r="7.8"/>
<circle cx="284.6" cy="974.0" r="7.5"/>
<circle cx="125.0" cy="1157.7" r="7.7"/>
<circle cx="347.1" cy="1369.5" r="8.2"/>
<circle cx="467.8" cy="897.4" r="7.7"/>
<circle cx="437.4" cy="1002.4" r="7.7"/>
<circle cx="90.0" cy="1105.6" r="8.0"/>
<circle cx="108.0" cy="1215.8" r="8.2"/>
<circle cx="497.1" cy="1045.8" r="7.7"/>
<circle cx="120.5" cy="1202.9" r="7.8"/>
<circle cx="139.6" cy="1353.1" r="8.1"/>
<circle cx="307.3" cy="919.9" r="8.1"/>
<circle cx="225.8" cy="973.7" r="8.0"/>
<circle cx="409.5" cy="1390.5" r="7.6"/>
<circle cx="251.5" cy="1005.9" r="7.6"/>
<circle cx="156.1" cy="1032.6" r="8.1"/>
<circle cx="437.8" cy="1401.8" r="8.1"/>
<circle cx="349.2" cy="1330.4" r="8.2"/>
<circle cx="515.4" cy="1270.2" r="8.1"/>
<circle cx="363.9" cy="1008.6" r="7.8"/>
<circle cx="482.9" cy="1034.5" r="7.6"/>
<circle cx="265.2" cy="886.2" r="8.2"/>
<circle cx="455.1" cy="1001.2" r="8.1"/>
<circle cx="298.2" cy="935.3" r="8.0"/>
<circle cx="176.5" cy="898.7" r="8.0"/>
<circle cx="298.3" cy="984.9" r="7.8"/>
<circle cx="501.2" cy="1305.5" r="7.8"/>
<circle cx="380.2" cy="960.5" r="8.0"/>
<circle cx="383.4" cy="1405.3" r="7.9"/>
<circle cx="121.2" cy="1071.7" r="8.1"/>
<circle cx="510.1" cy="918.8" r="8.2"/>
<circle cx="411.4" cy="1356.9" r="8.2"/>
<circle cx="327.7" cy="977.1" r="7.8"/>
<circle cx="522.8" cy="1054.1" r="7.8"/>
<circle cx="199.5" cy="1372.1" r="8.2"/>
<circle cx="157.8" cy="1388.0" r="7.8"/>
<circle cx="248.1" cy="943.1" r="8.1"/>
<circle cx="126.9" cy="901.0" r="7.6"/>
<circle cx="496.1" cy="1145.7" r="7.9"/>
<circle cx="514.7" cy="1252.5" r="7.9"/>
<circle cx="157.1" cy="882.3" r="8.1"/>
<circle cx="513.6" cy="1039.1" r="8.2"/>
<circle cx="184.2" cy="914.9" r="7.6"/>
<circle cx="90.3" cy="1242.3" r="8.0"/>
<circle cx="518.6" cy="1303.6" r="8.0"/>
<circle cx="104.6" cy="1114.4" r="7.6"/>
<circle cx="204.2" cy="915.4" r="8.2"/>
<circle cx="163.3" cy="994.1" r="7.9"/>
<circle cx="498.9" cy="1264.1" r="8.3"/>
<circle cx="279.9" cy="1043.5" r="7.6"/>
<circle cx="121.7" cy="1011.3" r="7.9"/>
<circle cx="112.4" cy="952.7" r="7.8"/>
<circle cx="227.5" cy="1006.1" r="8.0"/>
<circle cx="419.7" cy="1405.1" r="8.0"/>
<circle cx="392.7" cy="875.0" r="7.9"/>
<circle cx="502.5" cy="1180.5" r="7.8"/>
<circle cx="361.8" cy="1342.6" r="7.9"/>
<circle cx="235.0" cy="958.6" r="7.8"/>
<circle cx="90.0" cy="945.0" r="8.2"/>
<circle cx="522.8" cy="906.9" r="7.9"/>
<circle cx="364.8" cy="886.7" r="7.9"/>
<circle cx="174.6" cy="1397.0" r="7.7"/>
<circle cx="194.2" cy="900.4" r="7.7"/>
<circle cx="178.6" cy="961.3" r="8.3"/>
<circle cx="93.4" cy="909.6" r="7.8"/>
<circle cx="285.9" cy="997.4" r="8.2"/>
<circle cx="330.2" cy="998.9" r="8.0"/>
<circle cx="473.0" cy="1319.8" r="8.3"/>
<circle cx="228.1" cy="878.3" r="7.6"/>
<circle cx="468.0" cy="1024.4" r="8.3"/>
<circle cx="371.6" cy="1327.1" r="8.1"/>
<circle cx="424.0" cy="1344.8" r="8.0"/>
<circle cx="304.2" cy="1319.6" r="8.1"/>
</g>
<g fill="#141a16" filter="url(#bl05)">
<polygon points="512.4,962.1 489.4,989.1 467.3,1016.6 453.2,1031.5 432.0,1046.5 408.5,1057.9 393.0,1077.8 378.1,1099.6 356.6,1122.4 334.0,1141.1 314.2,1152.0 288.4,1169.2 266.2,1179.3 246.2,1197.6 227.9,1208.8 209.7,1233.1 198.6,1244.2 185.7,1264.5 171.1,1286.4 152.8,1303.4 133.2,1315.4 107.5,1325.6 93.6,1330.8 94.4,1333.2 108.5,1328.4 134.8,1318.6 155.2,1306.6 174.9,1289.6 190.3,1267.5 203.4,1247.8 214.3,1236.9 232.1,1213.2 249.8,1202.4 269.8,1184.7 291.6,1174.8 317.8,1158.0 338.0,1146.9 361.4,1127.6 383.9,1104.4 399.0,1082.2 413.5,1064.1 436.0,1053.5 458.8,1038.5 474.7,1023.4 498.6,996.9 521.6,969.9"/>
<polygon points="517,966 517,992 505,1006 492,1026 480,1040 470,1044 468,1030 474,1014 488,996 502,982"/>
</g>
<polyline points="219.8,1195.9 211.2,1200.5 198.7,1212.2 180.1,1221.4 158.3,1225.3" fill="none" stroke="#2a302a" stroke-width="1"/>
<polyline points="96,1260 120,1248 151,1232" fill="none" stroke="#2a302a" stroke-width="1" opacity="0.7"/>
</g>
<rect x="152.2" y="1016.5" width="320.1" height="298.3" fill="none" stroke="#ff0000" stroke-width="3.8"/>
<line x1="472.3" y1="1016.5" x2="579.5" y2="871" stroke="#ff0000" stroke-width="3.6" stroke-dasharray="17.6 14.2"/>
<line x1="472.3" y1="1314.8" x2="585" y2="1399.5" stroke="#ff0000" stroke-width="3.6" stroke-dasharray="17.8 14.2"/>
<line x1="151.9" y1="1310.5" x2="462" y2="1046.5" stroke="#19ad48" stroke-width="4"/>
<path d="M153.5,1242.6 C172,1242 191,1250 195.8,1269.5" fill="none" stroke="#16a070" stroke-width="3.5"/>
<rect x="162.8" y="1187.9" width="72.9" height="39.7" fill="#00f000"/>
<text x="162.3" y="1219.8" style="font-size:36.5px;font-weight:bold">52</text>
<text x="201.5" y="1213" style="font-size:31px">°</text>
<rect x="96.7" y="1352.4" width="167.7" height="44.5" fill="#fff" stroke="#000" stroke-width="2"/>
<text x="180.2" y="1380" text-anchor="middle" style="font-size:29.8px">50 μm</text>
<line x1="104" y1="1388.2" x2="256" y2="1388.2" stroke="#000" stroke-width="1.8"/>
<polygon points="97.5,1388.2 108,1383 108,1393.4" fill="#000"/>
<polygon points="263.5,1388.2 253,1383 253,1393.4" fill="#000"/>
<text x="6.2" y="899" class="lb">(b)</text>
</svg>
</body></html>
